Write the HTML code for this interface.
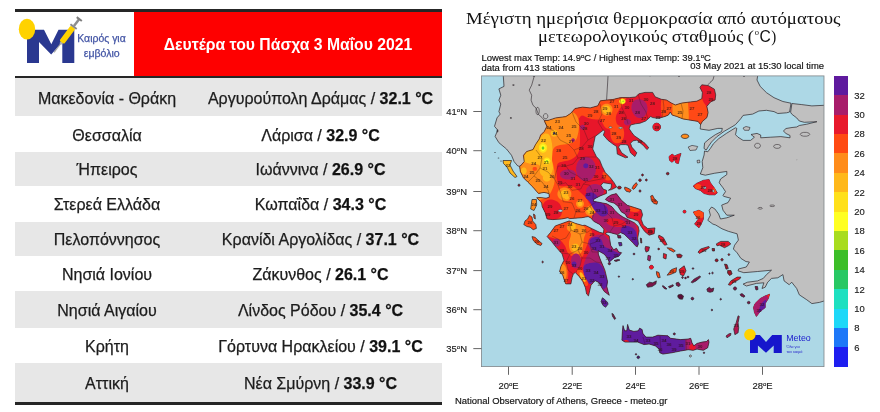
<!DOCTYPE html><html lang="el"><head><meta charset="utf-8"><title>Μέγιστες θερμοκρασίες</title><style>
html,body{margin:0;padding:0;background:#fff;}
body{width:880px;height:412px;position:relative;overflow:hidden;font-family:"Liberation Sans",sans-serif;color:#1a1a1a;}
.abs{position:absolute;}
.row{position:absolute;left:15px;width:427px;}
.g{background:#e7e7e7;}
.c1,.c2{position:absolute;text-align:center;font-size:16px;white-space:nowrap;line-height:20px;color:#1c1c1c;-webkit-text-stroke:0.25px #1c1c1c;}
.c1{left:15px;width:184px;}
.c2{left:199px;width:243px;}
.c2 b{color:#111;}
.hline{position:absolute;left:15px;width:427px;height:2px;background:#262626;}
.ttl{position:absolute;left:455px;width:400px;text-align:center;font-family:"Liberation Serif",serif;font-size:18.8px;line-height:18.3px;color:#111;white-space:nowrap;}
.sm{position:absolute;font-size:9.45px;line-height:10px;color:#111;white-space:nowrap;}
.tick{position:absolute;font-size:9.45px;line-height:10px;color:#222;white-space:nowrap;}
</style></head><body>
<div class="hline" style="top:9.2px;height:2.4px"></div>
<div class="abs" style="left:134.1px;top:11.5px;width:307.9px;height:65px;background:#fe0000"></div>
<div class="abs" style="left:134px;top:11.5px;width:308px;height:65px;line-height:65px;text-align:center;color:#fff;font-weight:bold;font-size:15.75px;white-space:nowrap">Δευτέρα του Πάσχα 3 Μαΐου 2021</div>
<div class="hline" style="top:76.2px;height:2.1px"></div>
<div class="row g" style="top:78.3px;height:38.2px"></div>
<div class="c1" style="top:88.6px">Μακεδονία - Θράκη</div>
<div class="c2" style="top:88.6px">Αργυρούπολη Δράμας / <b>32.1 °C</b></div>
<div class="c1" style="top:125.6px">Θεσσαλία</div>
<div class="c2" style="top:125.6px">Λάρισα / <b>32.9 °C</b></div>
<div class="row g" style="top:152.4px;height:33.6px"></div>
<div class="c1" style="top:160.4px">Ήπειρος</div>
<div class="c2" style="top:160.4px">Ιωάννινα / <b>26.9 °C</b></div>
<div class="c1" style="top:195.3px">Στερεά Ελλάδα</div>
<div class="c2" style="top:195.3px">Κωπαΐδα / <b>34.3 °C</b></div>
<div class="row g" style="top:222.3px;height:33.7px"></div>
<div class="c1" style="top:230.3px">Πελοπόννησος</div>
<div class="c2" style="top:230.3px">Κρανίδι Αργολίδας / <b>37.1 °C</b></div>
<div class="c1" style="top:264.8px">Νησιά Ιονίου</div>
<div class="c2" style="top:264.8px">Ζάκυνθος / <b>26.1 °C</b></div>
<div class="row g" style="top:291.3px;height:36.6px"></div>
<div class="c1" style="top:300.8px">Νησιά Αιγαίου</div>
<div class="c2" style="top:300.8px">Λίνδος Ρόδου / <b>35.4 °C</b></div>
<div class="c1" style="top:336.7px">Κρήτη</div>
<div class="c2" style="top:336.7px">Γόρτυνα Ηρακλείου / <b>39.1 °C</b></div>
<div class="row g" style="top:363.2px;height:38.8px"></div>
<div class="c1" style="top:373.8px">Αττική</div>
<div class="c2" style="top:373.8px">Νέα Σμύρνη / <b>33.9 °C</b></div>
<div class="hline" style="top:402px;height:2.6px"></div>
<svg style="position:absolute;left:0;top:0" width="140" height="78" viewBox="0 0 140 78">
<g filter="url(#lb)">
<defs><filter id="lb" x="-5%" y="-5%" width="110%" height="110%"><feGaussianBlur stdDeviation="0.4"/></filter></defs>
<path d="M27,29.7 L44,29.7 L51.3,44.2 L58.5,29.7 L74.3,29.7 L74.3,63 L62.3,63 L62.3,42 L51.2,54.5 L39,42 L39,63 L27,63 Z" fill="#2b3990"/>
<ellipse cx="27" cy="29.2" rx="8.2" ry="10.4" fill="#ffd200"/>
<g transform="translate(54.1,52.4) rotate(-53)">
<rect x="0" y="-0.55" width="11.5" height="1.1" fill="#a5a5a5"/>
<rect x="10.6" y="-1.3" width="2.6" height="2.6" fill="#b0b0b0"/>
<rect x="12.6" y="-2.9" width="19" height="5.8" rx="1.4" fill="#ffd200"/>
<rect x="31.4" y="-3.9" width="1.9" height="7.8" fill="#8a8a8a"/>
<rect x="33" y="-1.25" width="8.5" height="2.5" fill="#8e8e8e"/>
<rect x="40.8" y="-3.2" width="2" height="6.4" fill="#7e7e7e"/>
</g>
</g>
<text x="101.5" y="42.3" text-anchor="middle" font-family="Liberation Sans, sans-serif" font-size="10.6" fill="#4355a5" stroke="#4355a5" stroke-width="0.25" textLength="48.5" lengthAdjust="spacingAndGlyphs">Καιρός για</text>
<text x="101.7" y="56.8" text-anchor="middle" font-family="Liberation Sans, sans-serif" font-size="10.6" fill="#4355a5" stroke="#4355a5" stroke-width="0.25" textLength="36" lengthAdjust="spacingAndGlyphs">εμβόλιο</text>
</svg>

<svg style="position:absolute;left:0;top:0" width="880" height="412" viewBox="0 0 880 412" font-family="Liberation Sans, sans-serif" fill="#151515"><g font-family="Liberation Serif, serif" font-size="16.3" fill="#111"><text x="466" y="23.8" textLength="374.5" lengthAdjust="spacingAndGlyphs">Μέγιστη ημερήσια θερμοκρασία από αυτόματους</text><text x="538" y="42" textLength="216" lengthAdjust="spacingAndGlyphs">μετεωρολογικούς σταθμούς (</text><text x="754.8" y="34.6" font-size="8.5" textLength="4.3" lengthAdjust="spacingAndGlyphs">ο</text><text x="759.6" y="42" font-family="Liberation Sans, sans-serif" font-size="16" textLength="11.3" lengthAdjust="spacingAndGlyphs">C</text><text x="771.3" y="42" textLength="5" lengthAdjust="spacingAndGlyphs">)</text></g><g font-size="9.45" stroke="#151515" stroke-width="0.18"><text x="481.5" y="60.8">Lowest max Temp: 14.9<tspan font-size="6" dy="-3.2">o</tspan><tspan dy="3.2">C / Highest max Temp: 39.1</tspan><tspan font-size="6" dy="-3.2">o</tspan><tspan dy="3.2">C</tspan></text><text x="481.5" y="70.5">data from 413 stations</text><text x="824" y="69.3" text-anchor="end">03 May 2021 at 15:30 local time</text><text x="455" y="404.4">National Observatory of Athens, Greece - meteo.gr</text></g></svg>
<svg style="position:absolute;left:0;top:0" width="880" height="412" viewBox="0 0 880 412">
<defs>
<clipPath id="fr"><rect x="481.5" y="75.9" width="342.5" height="290.70000000000005"/></clipPath>
<clipPath id="gr"><path d="M519.6,166.3 L520.4,166.0 L524.2,161.6 L523.5,155.3 L526.7,151.5 L533.0,149.6 L535.5,144.6 L539.3,138.9 L540.6,135.1 L544.3,131.4 L546.9,126.3 L545.0,122.5 L544.3,120.4 L548.0,120.4 L555.7,117.9 L565.8,116.6 L570.5,113.5 L575.0,108.5 L582.6,107.1 L590.2,107.9 L597.8,105.8 L600.3,100.8 L606.6,100.1 L612.9,99.5 L620.5,97.6 L629.3,97.6 L635.6,97.0 L638.8,93.8 L645.0,92.4 L652.6,92.4 L655.1,96.8 L661.4,99.3 L666.5,100.0 L671.5,103.1 L675.3,105.0 L681.6,103.1 L690.5,101.9 L696.8,101.2 L701.8,98.7 L702.4,92.4 L699.9,87.4 L701.8,84.8 L708.1,85.5 L714.4,89.2 L715.7,94.9 L715.1,100.0 L710.6,101.9 L706.9,106.3 L708.1,112.6 L706.9,117.6 L702.4,121.4 L700.6,124.6 L698.0,121.4 L690.5,120.2 L682.9,118.9 L676.6,116.4 L672.2,115.1 L670.3,112.0 L668.4,115.1 L665.2,116.4 L658.9,118.3 L652.6,117.6 L650.7,116.5 L645.7,121.0 L640.0,123.2 L635.5,123.8 L630.5,125.0 L629.2,128.8 L631.8,132.6 L634.3,135.8 L638.1,138.3 L645.0,143.3 L648.8,147.8 L646.9,149.6 L643.1,145.2 L636.8,140.2 L633.0,140.8 L630.5,143.3 L631.8,147.1 L636.8,152.8 L634.9,156.6 L630.5,152.8 L628.0,145.2 L625.5,144.6 L620.4,144.6 L618.5,147.1 L621.7,152.8 L628.0,157.2 L625.5,157.8 L617.3,154.1 L616.6,146.5 L612.8,144.0 L607.8,140.2 L603.4,135.1 L604.6,131.4 L603.4,130.1 L600.2,132.6 L595.2,136.4 L593.9,142.7 L592.7,149.0 L596.4,156.6 L599.6,160.0 L602.1,166.3 L605.3,172.6 L610.3,177.7 L614.1,182.7 L616.6,187.1 L611.6,189.6 L608.4,190.3 L611.0,188.4 L611.6,184.0 L603.4,182.7 L600.9,185.2 L603.0,189.0 L606.5,190.3 L606.5,193.4 L600.0,196.0 L593.9,199.2 L593.2,201.2 L599.6,202.4 L606.9,203.8 L612.0,206.8 L614.9,210.4 L618.5,214.0 L622.9,217.0 L628.7,219.9 L634.5,222.8 L638.2,226.4 L639.1,230.8 L637.7,238.1 L638.4,243.9 L637.2,246.9 L635.2,245.6 L633.3,243.2 L628.9,238.8 L624.3,234.2 L620.5,232.6 L617.5,234.6 L614.1,233.7 L609.0,232.3 L606.6,232.4 L605.6,233.9 L609.2,235.9 L610.0,241.0 L610.7,245.4 L613.6,249.8 L616.5,248.3 L618.7,252.0 L621.6,252.7 L618.7,256.3 L614.3,257.8 L610.7,260.7 L609.2,262.2 L607.8,258.5 L604.1,254.1 L599.0,251.2 L598.3,250.5 L598.3,254.1 L600.5,260.0 L602.7,265.1 L604.9,270.2 L606.3,276.0 L607.5,281.4 L606.8,286.4 L608.1,291.5 L609.3,295.3 L604.3,291.5 L601.8,287.7 L599.2,282.7 L595.5,280.8 L594.2,281.4 L591.0,285.2 L589.8,290.2 L588.5,295.9 L586.6,294.0 L585.4,287.7 L582.8,281.4 L579.1,276.4 L575.3,272.6 L573.4,273.8 L572.1,277.6 L570.9,283.9 L565.8,283.9 L565.2,282.7 L562.7,275.1 L559.6,271.6 L560.9,266.5 L564.0,260.2 L562.1,253.9 L556.4,247.6 L551.4,241.3 L547.1,236.6 L550.3,232.8 L555.3,225.9 L562.0,223.5 L569.2,220.9 L575.5,223.4 L582.6,225.5 L585.0,225.2 L592.3,228.8 L599.6,232.3 L603.4,233.2 L603.9,229.2 L599.6,224.4 L593.7,221.3 L590.8,217.9 L588.1,216.6 L581.8,217.7 L574.2,218.3 L569.5,218.6 L567.9,217.7 L561.6,219.0 L552.8,219.6 L547.1,219.0 L545.2,212.7 L542.1,206.4 L541.7,203.0 L540.5,201.6 L536.7,197.8 L540.0,197.5 L546.0,198.2 L549.3,197.2 L549.0,193.5 L544.0,192.4 L538.5,193.4 L536.7,191.5 L532.9,187.1 L527.8,182.1 L523.4,177.7 L520.3,171.4Z M605.4,199.5 L607.0,197.6 L611.0,195.0 L616.3,193.6 L621.4,200.2 L627.3,205.3 L634.5,207.5 L641.1,209.7 L642.6,214.8 L641.1,219.1 L643.3,225.0 L647.7,228.6 L654.9,227.9 L654.2,233.7 L649.1,235.2 L644.7,231.5 L641.1,226.4 L638.2,221.3 L633.1,219.1 L627.3,217.7 L625.1,214.0 L621.4,211.9 L617.8,206.0 L614.1,203.1 L609.0,201.7Z M621.9,340.2 L622.4,331.4 L623.0,325.6 L624.6,330.8 L626.8,330.8 L627.6,324.4 L629.3,330.1 L633.9,331.4 L638.3,330.8 L639.6,328.2 L642.1,329.5 L642.8,333.3 L645.9,337.1 L652.8,337.1 L657.9,335.2 L668.0,335.8 L670.5,338.3 L680.6,339.6 L688.2,339.0 L690.7,338.3 L692.0,342.8 L693.8,345.9 L697.0,343.4 L702.0,342.1 L706.5,341.5 L708.4,339.6 L709.0,342.1 L707.7,347.8 L703.3,350.3 L697.0,349.1 L693.2,350.3 L688.2,349.7 L680.6,351.0 L671.8,352.8 L662.9,354.1 L659.8,352.8 L659.2,349.1 L655.4,345.9 L649.1,344.0 L644.0,344.6 L637.7,342.1 L630.1,342.1 L625.1,342.1Z M660.6,127.0 L660.1,128.9 L658.7,130.4 L656.7,130.9 L654.8,130.4 L653.3,128.9 L652.8,127.0 L653.3,125.0 L654.8,123.6 L656.7,123.1 L658.7,123.6 L660.1,125.0Z M669.0,156.6 L672.1,154.1 L674.7,155.9 L677.2,154.7 L681.0,153.4 L679.7,157.8 L678.4,163.5 L675.9,162.9 L674.7,159.7 L672.1,162.3 L669.6,160.4Z M693.3,186.0 L696.5,183.4 L703.4,180.3 L709.1,179.6 L710.4,182.8 L714.2,187.8 L717.3,192.9 L714.8,194.8 L709.1,194.8 L704.1,193.5 L700.3,190.4 L695.2,188.5Z M693.3,212.1 L699.0,210.2 L703.4,212.7 L703.4,219.0 L700.9,224.7 L699.0,227.8 L694.6,224.1 L698.4,219.0 L695.2,215.2Z M686.0,211.7 L685.7,212.6 L685.0,213.1 L684.0,213.1 L683.3,212.6 L683.0,211.7 L683.3,210.8 L684.0,210.3 L685.0,210.3 L685.7,210.8Z M653.4,267.2 L653.0,268.4 L652.0,269.1 L650.8,269.1 L649.8,268.4 L649.4,267.2 L649.8,266.0 L650.8,265.3 L652.0,265.3 L653.0,266.0Z M769.6,294.2 L768.3,298.6 L765.2,303.6 L765.2,307.6 L760.2,311.4 L756.4,316.4 L754.5,312.6 L753.5,307.4 L755.1,303.6 L760.2,298.6 L765.0,296.0Z"/></clipPath>
<filter id="bl" x="-2%" y="-2%" width="104%" height="104%"><feGaussianBlur stdDeviation="0.55"/></filter>
</defs>
<g clip-path="url(#fr)"><g filter="url(#bl)">
<rect x="470" y="66" width="365" height="310" fill="#add8e6"/>
<path d="M480.0,70.0 L503.3,70.0 L503.3,76.0 L504.0,86.4 L498.9,88.9 L500.8,95.2 L498.9,100.2 L500.8,104.0 L498.9,111.6 L500.2,114.1 L497.0,117.9 L496.4,120.0 L494.5,126.3 L497.7,130.1 L495.1,136.4 L498.9,142.7 L506.5,149.0 L511.5,155.3 L514.1,161.6 L517.8,166.0 L519.6,166.3 L550.0,150.0 L590.0,124.0 L620.0,110.0 L660.0,105.0 L695.0,112.0 L700.6,124.6 L700.2,129.0 L709.0,130.3 L717.8,128.4 L722.3,128.4 L721.6,131.5 L715.3,134.7 L709.0,139.1 L704.6,142.9 L704.0,148.5 L706.3,150.0 L708.4,146.5 L711.5,142.0 L716.6,136.9 L724.2,131.3 L733.0,126.2 L735.5,124.6 L740.6,118.9 L743.1,115.4 L752.6,114.1 L758.9,111.0 L766.5,110.3 L774.0,111.6 L777.8,113.5 L786.6,112.8 L789.6,112.0 L791.0,103.2 L782.9,101.5 L774.0,97.7 L766.5,92.7 L760.2,86.4 L757.0,80.0 L757.6,76.0 L757.6,70.0Z M830.0,105.3 L824.0,105.3 L811.9,105.9 L801.8,104.6 L791.9,103.5 L790.6,112.2 L791.7,114.1 L796.7,117.9 L799.3,121.0 L804.3,122.3 L816.9,121.7 L806.8,124.2 L799.3,125.5 L796.7,127.0 L792.0,127.5 L786.0,128.5 L783.4,131.0 L786.0,133.5 L790.0,135.5 L790.0,137.8 L780.9,136.6 L770.8,137.2 L760.7,137.8 L760.7,135.0 L757.0,133.4 L751.0,134.5 L754.4,137.2 L750.6,140.4 L743.1,140.4 L738.0,137.2 L735.5,134.7 L736.8,128.4 L735.4,127.8 L726.4,133.4 L718.8,138.6 L713.4,143.8 L710.4,148.4 L707.8,151.8 L704.5,151.0 L704.1,155.0 L702.2,161.4 L702.8,167.7 L700.3,174.0 L705.3,175.2 L714.2,173.3 L726.8,171.4 L726.8,174.6 L720.5,179.0 L719.2,182.8 L723.0,187.8 L725.5,191.6 L723.0,195.4 L723.6,196.3 L730.6,198.2 L728.0,202.6 L721.7,205.1 L723.0,210.2 L726.8,215.2 L734.3,215.2 L726.8,217.8 L720.5,219.0 L718.6,214.0 L714.8,208.9 L711.6,207.0 L709.1,210.2 L710.4,215.2 L707.8,220.3 L712.9,224.1 L715.7,225.0 L722.0,228.8 L728.3,231.3 L737.1,233.8 L738.4,240.1 L734.6,245.2 L733.4,249.0 L737.1,252.8 L740.9,258.4 L746.0,261.6 L749.4,262.0 L746.3,267.0 L738.7,268.9 L738.0,270.8 L743.8,272.7 L757.6,271.5 L771.5,270.2 L766.5,274.6 L763.3,278.4 L757.6,280.9 L747.5,282.2 L743.1,284.1 L746.3,286.0 L756.4,283.4 L763.9,282.8 L762.0,288.5 L765.2,287.2 L767.7,282.2 L771.5,278.4 L777.8,277.8 L782.9,274.6 L784.1,280.9 L789.2,284.7 L791.7,282.2 L796.7,288.5 L799.3,294.8 L806.8,299.8 L811.9,303.6 L819.4,302.4 L824.0,301.0 L830.0,301.0Z" fill="#c0c0c0" stroke="#2a2226" stroke-width="0.7" stroke-linejoin="round"/>
<path d="M688.2,147.0 L692.0,145.4 L697.7,146.5 L696.0,150.0 L690.0,150.5Z" fill="#c0c0c0" stroke="#2a2226" stroke-width="0.6"/>
<path d="M697.0,160.5 L699.5,160.0 L700.0,162.5 L697.5,163.0Z" fill="#c0c0c0" stroke="#2a2226" stroke-width="0.6"/>
<path d="M743.0,128.0 L746.0,126.5 L750.0,127.5 L749.0,130.3 L744.5,130.3Z" fill="#c0c0c0" stroke="#2a2226" stroke-width="0.6"/>
<path d="M691.5,356.0 L691.3,356.6 L690.7,357.0 L690.1,357.0 L689.5,356.6 L689.3,356.0 L689.5,355.4 L690.1,355.0 L690.7,355.0 L691.3,355.4Z" fill="#c0c0c0" stroke="#2a2226" stroke-width="0.6"/>
<path d="M539.3,111.0 L539.0,113.2 L538.1,114.6 L537.1,114.6 L536.2,113.2 L535.9,111.0 L536.2,108.8 L537.1,107.4 L538.1,107.4 L539.0,108.8Z" fill="#c0c0c0" stroke="#2a2226" stroke-width="0.55"/>
<path d="M547.9,116.2 L547.5,117.7 L546.3,118.7 L544.9,118.7 L543.7,117.7 L543.3,116.2 L543.7,114.7 L544.9,113.7 L546.3,113.7 L547.5,114.7Z" fill="#c0c0c0" stroke="#2a2226" stroke-width="0.55"/>
<path d="M809.8,134.3 L808.9,135.5 L806.5,136.2 L803.5,136.2 L801.1,135.5 L800.2,134.3 L801.1,133.1 L803.5,132.4 L806.5,132.4 L808.9,133.1Z" fill="#c0c0c0" stroke="#2a2226" stroke-width="0.55"/>
<path d="M760.5,145.7 L759.9,147.2 L758.4,148.1 L756.6,148.1 L755.1,147.2 L754.5,145.7 L755.1,144.2 L756.6,143.3 L758.4,143.3 L759.9,144.2Z" fill="#c0c0c0" stroke="#2a2226" stroke-width="0.55"/>
<path d="M780.8,146.4 L780.1,147.6 L778.3,148.3 L776.1,148.3 L774.3,147.6 L773.6,146.4 L774.3,145.2 L776.1,144.5 L778.3,144.5 L780.1,145.2Z" fill="#c0c0c0" stroke="#2a2226" stroke-width="0.55"/>
<path d="M762.4,208.3 L761.8,208.9 L760.2,209.2 L758.6,208.9 L758.0,208.3 L758.6,207.7 L760.2,207.4 L761.8,207.7Z" fill="#c0c0c0" stroke="#2a2226" stroke-width="0.55"/>
<path d="M774.6,205.8 L773.9,206.4 L772.2,206.6 L770.5,206.4 L769.8,205.8 L770.5,205.2 L772.2,205.0 L773.9,205.2Z" fill="#c0c0c0" stroke="#2a2226" stroke-width="0.55"/>
<path d="M797.1,160.0 L797.0,160.1 L796.9,160.0 L797.0,159.9Z" fill="#c0c0c0" stroke="#2a2226" stroke-width="0.55"/>
<path d="M534.2,76.3 L531.7,85.1 L529.2,90.1 L531.7,95.2 L531.1,100.2 L533.0,105.3 L536.0,108.0 L538.5,114.5 L542.0,117.5 L544.3,120.4" fill="none" stroke="#2a2226" stroke-width="0.6"/>
<path d="M606.6,100.1 L607.0,93.0 L607.5,85.0 L608.0,76.0" fill="none" stroke="#2a2226" stroke-width="0.6"/>
<path d="M708.0,84.8 L710.0,82.5 L713.0,79.8 L714.0,76.0" fill="none" stroke="#2a2226" stroke-width="0.6"/>
<path d="M503.0,160.5 L511.5,160.5 L510.0,165.0 L513.0,171.0 L517.0,176.5 L515.0,177.5 L510.0,173.0 L507.0,167.0 L503.5,163.5Z" fill="#ffb81a" stroke="#2a2226" stroke-width="0.7" stroke-linejoin="round"/>
<path d="M520.1,185.2 L519.9,185.8 L519.3,186.2 L518.7,186.2 L518.1,185.8 L517.9,185.2 L518.1,184.6 L518.7,184.2 L519.3,184.2 L519.9,184.6Z" fill="#a01228" stroke="#2a2226" stroke-width="0.7" stroke-linejoin="round"/>
<path d="M532.0,199.5 L536.4,199.5 L536.7,205.0 L534.0,210.5 L530.7,209.0 L531.5,203.0Z" fill="#ff8c1a" stroke="#2a2226" stroke-width="0.7" stroke-linejoin="round"/>
<path d="M529.5,215.2 L532.0,217.1 L532.6,220.9 L535.8,224.6 L536.4,228.4 L533.2,229.7 L530.1,227.2 L526.9,226.5 L523.8,224.6 L525.0,220.9 L527.6,219.0Z" fill="#ff4a12" stroke="#2a2226" stroke-width="0.7" stroke-linejoin="round"/>
<path d="M533.5,214.0 L535.0,215.0 L535.3,219.0 L534.0,218.0Z" fill="#ff4a12" stroke="#2a2226" stroke-width="0.7" stroke-linejoin="round"/>
<path d="M532.0,236.6 L535.1,237.3 L538.9,241.0 L542.1,243.6 L540.8,245.5 L537.0,244.2 L533.2,240.4Z" fill="#ff4a12" stroke="#2a2226" stroke-width="0.7" stroke-linejoin="round"/>
<path d="M602.4,297.8 L604.3,299.1 L607.4,302.2 L608.1,304.1 L605.6,307.3 L603.0,305.4 L601.1,301.6Z" fill="#5f1a9e" stroke="#2a2226" stroke-width="0.7" stroke-linejoin="round"/>
<path d="M611.9,313.5 L613.1,313.9 L615.7,318.5 L614.6,319.5 L612.5,316.2Z" fill="#7a1448" stroke="#2a2226" stroke-width="0.7" stroke-linejoin="round"/>
<path d="M543.4,262.0 L543.2,262.5 L542.8,262.8 L542.4,262.8 L542.0,262.5 L541.8,262.0 L542.0,261.5 L542.4,261.2 L542.8,261.2 L543.2,261.5Z" fill="#a01228" stroke="#2a2226" stroke-width="0.7" stroke-linejoin="round"/>
<path d="M660.6,127.0 L660.1,128.9 L658.7,130.4 L656.7,130.9 L654.8,130.4 L653.3,128.9 L652.8,127.0 L653.3,125.0 L654.8,123.6 L656.7,123.1 L658.7,123.6 L660.1,125.0Z" fill="#e8192c" stroke="#2a2226" stroke-width="0.7" stroke-linejoin="round"/>
<path d="M688.8,136.3 L688.3,137.4 L686.9,138.2 L685.0,138.5 L683.1,138.2 L681.7,137.4 L681.2,136.3 L681.7,135.2 L683.1,134.4 L685.0,134.1 L686.9,134.4 L688.3,135.2Z" fill="#ff8c1a" stroke="#2a2226" stroke-width="0.7" stroke-linejoin="round"/>
<path d="M669.0,156.6 L672.1,154.1 L674.7,155.9 L677.2,154.7 L681.0,153.4 L679.7,157.8 L678.4,163.5 L675.9,162.9 L674.7,159.7 L672.1,162.3 L669.6,160.4Z" fill="#e8192c" stroke="#2a2226" stroke-width="0.7" stroke-linejoin="round"/>
<path d="M669.0,173.6 L668.8,174.4 L668.1,174.8 L667.3,174.8 L666.6,174.4 L666.4,173.6 L666.6,172.8 L667.3,172.4 L668.1,172.4 L668.8,172.8Z" fill="#a01228" stroke="#2a2226" stroke-width="0.7" stroke-linejoin="round"/>
<path d="M693.3,186.0 L696.5,183.4 L703.4,180.3 L709.1,179.6 L710.4,182.8 L714.2,187.8 L717.3,192.9 L714.8,194.8 L709.1,194.8 L704.1,193.5 L700.3,190.4 L695.2,188.5Z" fill="#e8192c" stroke="#2a2226" stroke-width="0.7" stroke-linejoin="round"/>
<path d="M693.3,212.1 L699.0,210.2 L703.4,212.7 L703.4,219.0 L700.9,224.7 L699.0,227.8 L694.6,224.1 L698.4,219.0 L695.2,215.2Z" fill="#e8192c" stroke="#2a2226" stroke-width="0.7" stroke-linejoin="round"/>
<path d="M686.0,211.7 L685.7,212.6 L685.0,213.1 L684.0,213.1 L683.3,212.6 L683.0,211.7 L683.3,210.8 L684.0,210.3 L685.0,210.3 L685.7,210.8Z" fill="#e8192c" stroke="#2a2226" stroke-width="0.7" stroke-linejoin="round"/>
<path d="M650.7,196.0 L652.6,195.3 L654.5,199.1 L657.6,201.6 L657.0,204.2 L653.8,203.5 L651.3,200.4Z" fill="#ff4a12" stroke="#2a2226" stroke-width="0.7" stroke-linejoin="round"/>
<path d="M621.3,187.6 L620.9,188.5 L620.0,189.0 L618.8,189.0 L617.9,188.5 L617.5,187.6 L617.9,186.7 L618.8,186.2 L620.0,186.2 L620.9,186.7Z" fill="#a01228" stroke="#2a2226" stroke-width="0.7" stroke-linejoin="round"/>
<path d="M624.8,187.0 L628.0,188.2 L631.2,190.2 L630.0,192.2 L626.3,191.3 L624.6,189.0Z" fill="#ff4a12" stroke="#2a2226" stroke-width="0.7" stroke-linejoin="round"/>
<path d="M632.0,188.2 L633.6,185.2 L636.2,182.6 L637.4,184.6 L635.0,188.2 L633.2,189.4Z" fill="#ff4a12" stroke="#2a2226" stroke-width="0.7" stroke-linejoin="round"/>
<path d="M641.3,180.2 L641.1,181.0 L640.4,181.4 L639.6,181.4 L638.9,181.0 L638.7,180.2 L638.9,179.4 L639.6,179.0 L640.4,179.0 L641.1,179.4Z" fill="#a01228" stroke="#2a2226" stroke-width="0.7" stroke-linejoin="round"/>
<path d="M643.5,175.0 L643.3,175.6 L642.8,176.0 L642.2,176.0 L641.7,175.6 L641.5,175.0 L641.7,174.4 L642.2,174.0 L642.8,174.0 L643.3,174.4Z" fill="#a01228" stroke="#2a2226" stroke-width="0.7" stroke-linejoin="round"/>
<path d="M647.3,180.0 L647.1,180.6 L646.6,181.0 L646.0,181.0 L645.5,180.6 L645.3,180.0 L645.5,179.4 L646.0,179.0 L646.6,179.0 L647.1,179.4Z" fill="#a01228" stroke="#2a2226" stroke-width="0.7" stroke-linejoin="round"/>
<path d="M641.1,191.0 L640.9,191.6 L640.3,192.0 L639.7,192.0 L639.1,191.6 L638.9,191.0 L639.1,190.4 L639.7,190.0 L640.3,190.0 L640.9,190.4Z" fill="#a01228" stroke="#2a2226" stroke-width="0.7" stroke-linejoin="round"/>
<path d="M617.5,235.0 L620.5,235.5 L621.0,238.0 L618.0,238.0Z" fill="#7a1448" stroke="#2a2226" stroke-width="0.7" stroke-linejoin="round"/>
<path d="M618.5,242.5 L621.5,242.5 L622.0,245.5 L619.5,246.0Z" fill="#5f1a9e" stroke="#2a2226" stroke-width="0.7" stroke-linejoin="round"/>
<path d="M614.0,260.5 L618.0,259.5 L620.0,260.0 L616.0,261.5Z" fill="#7a1448" stroke="#2a2226" stroke-width="0.7" stroke-linejoin="round"/>
<path d="M610.6,263.6 L610.4,264.3 L609.8,264.7 L609.0,264.7 L608.4,264.3 L608.2,263.6 L608.4,262.9 L609.0,262.5 L609.8,262.5 L610.4,262.9Z" fill="#7a1448" stroke="#2a2226" stroke-width="0.7" stroke-linejoin="round"/>
<path d="M634.9,254.0 L634.7,254.5 L634.3,254.9 L633.7,254.9 L633.3,254.5 L633.1,254.0 L633.3,253.5 L633.7,253.1 L634.3,253.1 L634.7,253.5Z" fill="#7a1448" stroke="#2a2226" stroke-width="0.7" stroke-linejoin="round"/>
<path d="M619.6,276.6 L619.5,277.0 L619.1,277.3 L618.7,277.3 L618.3,277.0 L618.2,276.6 L618.3,276.2 L618.7,275.9 L619.1,275.9 L619.5,276.2Z" fill="#7a1448" stroke="#2a2226" stroke-width="0.7" stroke-linejoin="round"/>
<path d="M633.5,279.2 L633.4,279.6 L633.0,279.9 L632.6,279.9 L632.2,279.6 L632.1,279.2 L632.2,278.8 L632.6,278.5 L633.0,278.5 L633.4,278.8Z" fill="#7a1448" stroke="#2a2226" stroke-width="0.7" stroke-linejoin="round"/>
<path d="M640.3,238.0 L641.5,238.5 L641.8,243.0 L640.8,243.0Z" fill="#a01228" stroke="#2a2226" stroke-width="0.7" stroke-linejoin="round"/>
<path d="M658.9,235.1 L663.3,237.6 L667.1,244.6 L664.6,245.2 L660.2,240.1 L658.3,237.0Z" fill="#e8192c" stroke="#2a2226" stroke-width="0.7" stroke-linejoin="round"/>
<path d="M667.1,247.7 L671.5,248.3 L675.3,250.9 L673.4,252.1 L669.0,249.6Z" fill="#ff4a12" stroke="#2a2226" stroke-width="0.7" stroke-linejoin="round"/>
<path d="M676.6,254.5 L680.0,254.0 L682.3,255.5 L681.0,257.8 L677.5,257.5Z" fill="#a01228" stroke="#2a2226" stroke-width="0.7" stroke-linejoin="round"/>
<path d="M645.5,246.4 L649.5,247.0 L648.5,251.0 L646.0,252.1 L645.0,249.0Z" fill="#c2143c" stroke="#2a2226" stroke-width="0.7" stroke-linejoin="round"/>
<path d="M648.0,255.3 L650.7,256.0 L650.0,261.0 L647.6,260.0Z" fill="#a81d6b" stroke="#2a2226" stroke-width="0.7" stroke-linejoin="round"/>
<path d="M663.5,253.4 L666.5,254.5 L666.0,259.0 L663.3,258.0Z" fill="#e8192c" stroke="#2a2226" stroke-width="0.7" stroke-linejoin="round"/>
<path d="M659.6,249.0 L659.4,249.5 L659.0,249.9 L658.4,249.9 L658.0,249.5 L657.8,249.0 L658.0,248.5 L658.4,248.1 L659.0,248.1 L659.4,248.5Z" fill="#a01228" stroke="#2a2226" stroke-width="0.7" stroke-linejoin="round"/>
<path d="M653.4,267.2 L653.0,268.4 L652.0,269.1 L650.8,269.1 L649.8,268.4 L649.4,267.2 L649.8,266.0 L650.8,265.3 L652.0,265.3 L653.0,266.0Z" fill="#e8192c" stroke="#2a2226" stroke-width="0.7" stroke-linejoin="round"/>
<path d="M656.4,271.5 L659.0,272.5 L660.2,277.5 L658.0,277.8 L656.6,274.5Z" fill="#ff4a12" stroke="#2a2226" stroke-width="0.7" stroke-linejoin="round"/>
<path d="M667.1,275.2 L671.5,269.6 L676.6,267.7 L676.0,272.1 L670.3,274.6Z" fill="#ff4a12" stroke="#2a2226" stroke-width="0.7" stroke-linejoin="round"/>
<path d="M679.1,269.6 L684.2,265.8 L686.0,270.8 L683.5,275.9 L680.4,274.6Z" fill="#e8192c" stroke="#2a2226" stroke-width="0.7" stroke-linejoin="round"/>
<path d="M646.3,284.7 L649.5,282.2 L652.6,282.8 L656.4,280.9 L655.8,284.1 L652.0,286.6 L647.6,287.2Z" fill="#7a1448" stroke="#2a2226" stroke-width="0.7" stroke-linejoin="round"/>
<path d="M662.7,285.5 L665.0,287.0 L667.0,289.0 L665.0,289.0 L662.7,287.0Z" fill="#7a1448" stroke="#2a2226" stroke-width="0.7" stroke-linejoin="round"/>
<path d="M668.5,286.5 L673.0,284.7 L673.4,286.0 L669.5,288.0Z" fill="#7a1448" stroke="#2a2226" stroke-width="0.7" stroke-linejoin="round"/>
<path d="M676.0,283.0 L678.5,282.2 L680.4,285.0 L679.0,286.6 L676.5,285.5Z" fill="#7a1448" stroke="#2a2226" stroke-width="0.7" stroke-linejoin="round"/>
<path d="M691.1,282.2 L694.2,279.0 L699.9,275.9 L700.6,277.1 L696.1,280.9 L692.4,282.8Z" fill="#7a1448" stroke="#2a2226" stroke-width="0.7" stroke-linejoin="round"/>
<path d="M683.4,277.5 L683.2,278.0 L682.8,278.4 L682.2,278.4 L681.8,278.0 L681.6,277.5 L681.8,277.0 L682.2,276.6 L682.8,276.6 L683.2,277.0Z" fill="#7a1448" stroke="#2a2226" stroke-width="0.7" stroke-linejoin="round"/>
<path d="M686.4,278.0 L686.2,278.5 L685.8,278.9 L685.2,278.9 L684.8,278.5 L684.6,278.0 L684.8,277.5 L685.2,277.1 L685.8,277.1 L686.2,277.5Z" fill="#7a1448" stroke="#2a2226" stroke-width="0.7" stroke-linejoin="round"/>
<path d="M688.9,277.0 L688.7,277.5 L688.3,277.9 L687.7,277.9 L687.3,277.5 L687.1,277.0 L687.3,276.5 L687.7,276.1 L688.3,276.1 L688.7,276.5Z" fill="#7a1448" stroke="#2a2226" stroke-width="0.7" stroke-linejoin="round"/>
<path d="M678.0,295.0 L681.0,294.2 L683.5,296.0 L682.5,299.2 L679.5,299.0 L677.8,297.0Z" fill="#5a1038" stroke="#2a2226" stroke-width="0.7" stroke-linejoin="round"/>
<path d="M693.8,298.6 L693.5,299.4 L692.8,299.9 L692.0,299.9 L691.3,299.4 L691.0,298.6 L691.3,297.8 L692.0,297.3 L692.8,297.3 L693.5,297.8Z" fill="#7a1448" stroke="#2a2226" stroke-width="0.7" stroke-linejoin="round"/>
<path d="M706.9,289.0 L709.5,287.2 L711.0,289.0 L713.8,288.0 L713.0,291.5 L710.0,292.3 L707.5,291.5Z" fill="#7a1448" stroke="#2a2226" stroke-width="0.7" stroke-linejoin="round"/>
<path d="M693.8,268.5 L693.6,269.0 L693.2,269.3 L692.8,269.3 L692.4,269.0 L692.2,268.5 L692.4,268.0 L692.8,267.7 L693.2,267.7 L693.6,268.0Z" fill="#7a1448" stroke="#2a2226" stroke-width="0.7" stroke-linejoin="round"/>
<path d="M713.3,273.0 L713.1,273.5 L712.7,273.8 L712.3,273.8 L711.9,273.5 L711.7,273.0 L711.9,272.5 L712.3,272.2 L712.7,272.2 L713.1,272.5Z" fill="#7a1448" stroke="#2a2226" stroke-width="0.7" stroke-linejoin="round"/>
<path d="M710.1,273.5 L710.0,273.9 L709.7,274.1 L709.3,274.1 L709.0,273.9 L708.9,273.5 L709.0,273.1 L709.3,272.9 L709.7,272.9 L710.0,273.1Z" fill="#7a1448" stroke="#2a2226" stroke-width="0.7" stroke-linejoin="round"/>
<path d="M721.5,299.2 L721.3,299.7 L720.9,300.0 L720.5,300.0 L720.1,299.7 L719.9,299.2 L720.1,298.7 L720.5,298.4 L720.9,298.4 L721.3,298.7Z" fill="#7a1448" stroke="#2a2226" stroke-width="0.7" stroke-linejoin="round"/>
<path d="M712.7,310.0 L712.5,310.5 L712.1,310.8 L711.7,310.8 L711.3,310.5 L711.1,310.0 L711.3,309.5 L711.7,309.2 L712.1,309.2 L712.5,309.5Z" fill="#7a1448" stroke="#2a2226" stroke-width="0.7" stroke-linejoin="round"/>
<path d="M698.0,252.1 L700.6,249.0 L708.8,246.4 L709.4,247.7 L703.1,251.5 L699.3,253.4Z" fill="#e8192c" stroke="#2a2226" stroke-width="0.7" stroke-linejoin="round"/>
<path d="M716.3,243.9 L720.7,241.4 L728.3,241.4 L730.8,243.9 L728.3,245.8 L724.5,247.7 L719.5,245.2 L717.0,245.8Z" fill="#e8192c" stroke="#2a2226" stroke-width="0.7" stroke-linejoin="round"/>
<path d="M712.0,248.5 L714.5,248.5 L714.5,251.0 L712.5,251.0Z" fill="#a01228" stroke="#2a2226" stroke-width="0.7" stroke-linejoin="round"/>
<path d="M718.1,260.3 L717.8,261.2 L717.1,261.7 L716.1,261.7 L715.4,261.2 L715.1,260.3 L715.4,259.4 L716.1,258.9 L717.1,258.9 L717.8,259.4Z" fill="#a01228" stroke="#2a2226" stroke-width="0.7" stroke-linejoin="round"/>
<path d="M723.2,259.7 L723.0,260.4 L722.4,260.8 L721.6,260.8 L721.0,260.4 L720.8,259.7 L721.0,259.0 L721.6,258.6 L722.4,258.6 L723.0,259.0Z" fill="#a01228" stroke="#2a2226" stroke-width="0.7" stroke-linejoin="round"/>
<path d="M729.8,254.6 L729.6,255.1 L729.2,255.5 L728.6,255.5 L728.2,255.1 L728.0,254.6 L728.2,254.1 L728.6,253.7 L729.2,253.7 L729.6,254.1Z" fill="#a01228" stroke="#2a2226" stroke-width="0.7" stroke-linejoin="round"/>
<path d="M724.5,264.1 L727.0,264.5 L728.3,268.5 L726.0,269.2Z" fill="#a01228" stroke="#2a2226" stroke-width="0.7" stroke-linejoin="round"/>
<path d="M727.7,270.4 L731.0,270.6 L732.1,274.0 L729.5,275.5 L727.5,273.0Z" fill="#a01228" stroke="#2a2226" stroke-width="0.7" stroke-linejoin="round"/>
<path d="M728.3,284.7 L730.8,280.9 L737.1,277.1 L740.9,277.1 L739.7,279.0 L734.0,282.2 L730.2,285.3Z" fill="#e8192c" stroke="#2a2226" stroke-width="0.7" stroke-linejoin="round"/>
<path d="M736.6,288.5 L736.3,289.4 L735.5,290.0 L734.5,290.0 L733.7,289.4 L733.4,288.5 L733.7,287.6 L734.5,287.0 L735.5,287.0 L736.3,287.6Z" fill="#7a1448" stroke="#2a2226" stroke-width="0.7" stroke-linejoin="round"/>
<path d="M740.0,294.5 L742.0,293.5 L745.0,296.0 L744.0,297.3 L741.0,296.0Z" fill="#7a1448" stroke="#2a2226" stroke-width="0.7" stroke-linejoin="round"/>
<path d="M755.0,286.5 L757.5,286.5 L758.0,289.5 L756.0,290.0Z" fill="#7a1448" stroke="#2a2226" stroke-width="0.7" stroke-linejoin="round"/>
<path d="M750.0,302.6 L749.8,303.4 L749.1,303.8 L748.3,303.8 L747.6,303.4 L747.4,302.6 L747.6,301.8 L748.3,301.4 L749.1,301.4 L749.8,301.8Z" fill="#7a1448" stroke="#2a2226" stroke-width="0.7" stroke-linejoin="round"/>
<path d="M769.6,294.2 L768.3,298.6 L765.2,303.6 L765.2,307.6 L760.2,311.4 L756.4,316.4 L754.5,312.6 L753.5,307.4 L755.1,303.6 L760.2,298.6 L765.0,296.0Z" fill="#a81d6b" stroke="#2a2226" stroke-width="0.7" stroke-linejoin="round"/>
<path d="M738.1,315.8 L739.3,316.4 L738.1,322.7 L738.7,327.8 L738.1,332.8 L734.9,334.7 L733.7,329.0 L736.2,322.7Z" fill="#b01850" stroke="#2a2226" stroke-width="0.7" stroke-linejoin="round"/>
<path d="M726.0,336.0 L729.0,333.8 L731.0,333.4 L730.5,335.5 L727.0,337.8Z" fill="#b01850" stroke="#2a2226" stroke-width="0.7" stroke-linejoin="round"/>
<path d="M639.7,357.3 L639.4,358.1 L638.7,358.6 L637.9,358.6 L637.2,358.1 L636.9,357.3 L637.2,356.5 L637.9,356.0 L638.7,356.0 L639.4,356.5Z" fill="#4a1470" stroke="#2a2226" stroke-width="0.7" stroke-linejoin="round"/>
<path d="M636.7,354.3 L636.6,354.7 L636.2,355.0 L635.8,355.0 L635.4,354.7 L635.3,354.3 L635.4,353.9 L635.8,353.6 L636.2,353.6 L636.6,353.9Z" fill="#7a1448" stroke="#2a2226" stroke-width="0.7" stroke-linejoin="round"/>
<path d="M675.4,333.9 L675.2,334.5 L674.6,334.9 L674.0,334.9 L673.4,334.5 L673.2,333.9 L673.4,333.3 L674.0,332.9 L674.6,332.9 L675.2,333.3Z" fill="#7a1448" stroke="#2a2226" stroke-width="0.7" stroke-linejoin="round"/>
<path d="M704.7,352.8 L704.6,353.2 L704.2,353.5 L703.8,353.5 L703.4,353.2 L703.3,352.8 L703.4,352.4 L703.8,352.1 L704.2,352.1 L704.6,352.4Z" fill="#7a1448" stroke="#2a2226" stroke-width="0.7" stroke-linejoin="round"/>
<g clip-path="url(#gr)">
<rect x="480" y="70" width="350" height="300" fill="#e8192c"/>
<path d="M490.0,100.0 C504.5,79.7 562.2,96.7 577.0,100.0 C591.8,103.3 578.5,114.2 579.0,120.0 C579.5,125.8 579.9,130.3 580.0,135.0 C580.1,139.7 580.0,144.7 579.5,148.0 C579.0,151.3 578.4,153.1 577.0,155.0 C575.6,156.9 573.3,158.4 571.0,159.5 C568.7,160.6 565.2,160.8 563.0,161.5 C560.8,162.2 558.5,162.2 557.5,164.0 C556.5,165.8 556.8,169.3 556.8,172.0 C556.8,174.7 556.7,177.7 557.2,180.0 C557.7,182.3 557.5,185.0 560.0,186.0 C562.5,187.0 568.7,185.0 572.0,186.0 C575.3,187.0 577.7,190.0 580.0,192.0 C582.3,194.0 584.3,196.0 586.0,198.0 C587.7,200.0 588.2,202.3 590.0,204.0 C591.8,205.7 595.8,206.3 597.0,208.0 C598.2,209.7 597.8,212.3 597.0,214.0 C596.2,215.7 593.8,217.2 592.0,218.0 C590.2,218.8 588.3,218.8 586.0,219.0 C583.7,219.2 580.7,218.9 578.0,219.0 C575.3,219.1 572.7,219.3 570.0,219.5 C567.3,219.7 564.3,219.8 562.0,220.0 C559.7,220.2 558.3,220.7 556.0,221.0 C553.7,221.3 552.3,221.8 548.0,222.0 C543.7,222.2 539.7,222.0 530.0,222.0 C520.3,222.0 496.7,242.3 490.0,222.0 C483.3,201.7 475.5,120.3 490.0,100.0Z" fill="#ff4a12"/>
<path d="M545.0,201.5 C546.7,199.8 549.7,199.2 552.0,199.5 C554.3,199.8 557.3,201.2 559.0,203.0 C560.7,204.8 561.8,207.7 562.0,210.0 C562.2,212.3 561.7,215.2 560.0,217.0 C558.3,218.8 554.3,219.9 552.0,220.5 C549.7,221.1 547.7,222.2 546.0,220.5 C544.3,218.8 542.2,213.2 542.0,210.0 C541.8,206.8 543.3,203.2 545.0,201.5Z" fill="#e8192c"/>
<path d="M572.0,98.0 C580.7,93.3 615.5,91.0 624.0,92.0 C632.5,93.0 624.0,101.0 623.0,104.0 C622.0,107.0 619.5,108.2 618.0,110.0 C616.5,111.8 616.0,113.5 614.0,115.0 C612.0,116.5 609.0,118.2 606.0,119.0 C603.0,119.8 599.0,119.7 596.0,119.5 C593.0,119.3 590.3,118.7 588.0,118.0 C585.7,117.3 583.7,115.3 582.0,115.5 C580.3,115.7 579.7,118.2 578.0,119.0 C576.3,119.8 573.0,123.5 572.0,120.0 C571.0,116.5 563.3,102.7 572.0,98.0Z" fill="#ff4a12"/>
<path d="M598.0,103.0 C599.5,101.0 603.3,98.8 606.0,98.0 C608.7,97.2 611.3,97.8 614.0,98.0 C616.7,98.2 621.0,97.3 622.0,99.0 C623.0,100.7 621.0,105.2 620.0,108.0 C619.0,110.8 616.5,113.3 616.0,116.0 C615.5,118.7 615.8,122.0 617.0,124.0 C618.2,126.0 621.8,126.0 623.0,128.0 C624.2,130.0 624.3,133.7 624.0,136.0 C623.7,138.3 622.5,140.8 621.0,142.0 C619.5,143.2 616.7,143.7 615.0,143.0 C613.3,142.3 611.8,140.2 611.0,138.0 C610.2,135.8 610.8,131.7 610.0,130.0 C609.2,128.3 607.2,129.0 606.0,128.0 C604.8,127.0 604.0,126.0 603.0,124.0 C602.0,122.0 601.0,118.3 600.0,116.0 C599.0,113.7 597.3,112.2 597.0,110.0 C596.7,107.8 596.5,105.0 598.0,103.0Z" fill="#ff4a12"/>
<path d="M662.0,98.0 C663.2,95.8 665.7,96.5 668.0,97.0 C670.3,97.5 672.3,100.8 676.0,101.0 C679.7,101.2 686.0,98.7 690.0,98.0 C694.0,97.3 697.7,96.2 700.0,97.0 C702.3,97.8 702.8,101.2 704.0,103.0 C705.2,104.8 706.2,105.5 707.0,108.0 C707.8,110.5 709.7,115.0 709.0,118.0 C708.3,121.0 706.2,125.0 703.0,126.0 C699.8,127.0 694.5,125.0 690.0,124.0 C685.5,123.0 679.7,120.8 676.0,120.0 C672.3,119.2 670.2,119.2 668.0,119.0 C665.8,118.8 664.2,120.5 663.0,119.0 C661.8,117.5 661.2,113.5 661.0,110.0 C660.8,106.5 660.8,100.2 662.0,98.0Z" fill="#ff4a12"/>
<path d="M603.0,172.0 C603.8,171.5 606.7,172.8 608.0,174.0 C609.3,175.2 611.2,177.9 611.0,179.0 C610.8,180.1 608.2,180.8 607.0,180.5 C605.8,180.2 604.2,178.4 603.5,177.0 C602.8,175.6 602.2,172.5 603.0,172.0Z" fill="#ff4a12"/>
<path d="M629.0,206.0 C629.8,205.1 632.3,204.8 634.0,205.0 C635.7,205.2 638.2,206.0 639.0,207.0 C639.8,208.0 639.8,210.2 639.0,211.0 C638.2,211.8 635.6,212.1 634.0,212.0 C632.4,211.9 630.3,211.5 629.5,210.5 C628.7,209.5 628.2,206.9 629.0,206.0Z" fill="#ff4a12"/>
<path d="M553.0,226.0 C555.3,224.3 559.2,222.1 562.0,221.0 C564.8,219.9 567.0,219.2 570.0,219.5 C573.0,219.8 576.7,221.6 580.0,223.0 C583.3,224.4 588.0,225.8 590.0,228.0 C592.0,230.2 592.3,233.5 592.0,236.0 C591.7,238.5 589.2,240.7 588.0,243.0 C586.8,245.3 586.0,247.7 585.0,250.0 C584.0,252.3 583.8,255.8 582.0,257.0 C580.2,258.2 576.3,257.7 574.0,257.0 C571.7,256.3 569.5,254.8 568.0,253.0 C566.5,251.2 566.3,248.2 565.0,246.0 C563.7,243.8 562.0,241.3 560.0,240.0 C558.0,238.7 555.0,238.7 553.0,238.0 C551.0,237.3 548.8,237.2 548.0,236.0 C547.2,234.8 547.2,232.7 548.0,231.0 C548.8,229.3 550.7,227.7 553.0,226.0Z" fill="#ff4a12"/>
<path d="M558.0,262.0 C559.3,261.0 563.3,260.7 565.0,262.0 C566.7,263.3 567.5,267.3 568.0,270.0 C568.5,272.7 568.3,275.5 568.0,278.0 C567.7,280.5 567.5,283.8 566.0,285.0 C564.5,286.2 560.7,286.7 559.0,285.0 C557.3,283.3 556.3,277.8 556.0,275.0 C555.7,272.2 556.7,270.2 557.0,268.0 C557.3,265.8 556.7,263.0 558.0,262.0Z" fill="#ff4a12"/>
<path d="M577.0,270.0 C577.7,269.0 580.5,269.0 582.0,270.0 C583.5,271.0 585.0,273.7 586.0,276.0 C587.0,278.3 588.0,282.3 588.0,284.0 C588.0,285.7 587.0,286.3 586.0,286.0 C585.0,285.7 583.3,283.7 582.0,282.0 C580.7,280.3 578.8,278.0 578.0,276.0 C577.2,274.0 576.3,271.0 577.0,270.0Z" fill="#ff4a12"/>
<path d="M490.0,117.0 C499.7,103.2 537.0,117.3 548.0,117.0 C559.0,116.7 553.0,115.5 556.0,115.0 C559.0,114.5 563.3,114.5 566.0,114.0 C568.7,113.5 570.2,111.7 572.0,112.0 C573.8,112.3 575.8,114.0 577.0,116.0 C578.2,118.0 578.8,121.0 579.0,124.0 C579.2,127.0 578.7,131.2 578.0,134.0 C577.3,136.8 576.7,139.3 575.0,141.0 C573.3,142.7 570.5,143.3 568.0,144.0 C565.5,144.7 562.3,144.3 560.0,145.0 C557.7,145.7 555.5,146.2 554.0,148.0 C552.5,149.8 551.2,153.3 551.0,156.0 C550.8,158.7 552.4,161.3 553.0,164.0 C553.6,166.7 554.2,169.0 554.5,172.0 C554.8,175.0 554.9,179.0 554.5,182.0 C554.1,185.0 553.1,187.7 552.0,190.0 C550.9,192.3 550.0,194.3 548.0,196.0 C546.0,197.7 543.3,199.3 540.0,200.0 C536.7,200.7 536.3,200.0 528.0,200.0 C519.7,200.0 496.3,213.8 490.0,200.0 C483.7,186.2 480.3,130.8 490.0,117.0Z" fill="#ff8c1a"/>
<path d="M571.4,194.0 C571.4,194.9 571.1,196.0 570.7,196.8 C570.3,197.7 569.6,198.5 568.8,199.1 C568.0,199.7 567.0,200.1 566.0,200.3 C565.0,200.5 563.8,200.5 562.8,200.3 C561.8,200.1 560.8,199.7 560.0,199.1 C559.2,198.5 558.5,197.7 558.1,196.8 C557.7,196.0 557.4,194.9 557.4,194.0 C557.4,193.1 557.7,192.0 558.1,191.2 C558.5,190.3 559.2,189.5 560.0,188.9 C560.8,188.3 561.8,187.9 562.8,187.7 C563.8,187.5 565.0,187.5 566.0,187.7 C567.0,187.9 568.0,188.3 568.8,188.9 C569.6,189.5 570.3,190.3 570.7,191.2 C571.1,192.0 571.4,193.1 571.4,194.0Z" fill="#ff8c1a"/>
<path d="M612.6,109.6 C612.6,110.5 612.4,111.4 612.0,112.2 C611.6,113.0 611.0,113.8 610.3,114.3 C609.6,114.8 608.7,115.2 607.9,115.4 C607.1,115.6 606.1,115.6 605.3,115.4 C604.5,115.2 603.6,114.8 602.9,114.3 C602.2,113.8 601.6,113.0 601.2,112.2 C600.8,111.4 600.6,110.5 600.6,109.6 C600.6,108.7 600.8,107.8 601.2,107.0 C601.6,106.2 602.2,105.4 602.9,104.9 C603.6,104.4 604.5,104.0 605.3,103.8 C606.1,103.6 607.1,103.6 607.9,103.8 C608.7,104.0 609.6,104.4 610.3,104.9 C611.0,105.4 611.6,106.2 612.0,107.0 C612.4,107.8 612.6,108.7 612.6,109.6Z" fill="#ff8c1a"/>
<path d="M673.5,101.0 C674.9,99.3 678.8,100.2 681.0,100.0 C683.2,99.8 685.8,98.3 687.0,100.0 C688.2,101.7 688.3,106.3 688.5,110.0 C688.7,113.7 689.4,120.0 688.0,122.0 C686.6,124.0 682.5,122.5 680.0,122.0 C677.5,121.5 674.2,121.0 673.0,119.0 C671.8,117.0 672.4,113.0 672.5,110.0 C672.6,107.0 672.1,102.7 673.5,101.0Z" fill="#ff8c1a"/>
<path d="M568.0,224.0 C569.2,222.6 571.7,220.4 574.0,220.5 C576.3,220.6 580.0,222.8 582.0,224.5 C584.0,226.2 585.7,228.8 586.0,231.0 C586.3,233.2 584.5,235.5 584.0,238.0 C583.5,240.5 583.5,243.5 583.0,246.0 C582.5,248.5 582.3,251.7 581.0,253.0 C579.7,254.3 576.8,254.5 575.0,254.0 C573.2,253.5 571.0,252.0 570.0,250.0 C569.0,248.0 568.8,244.7 569.0,242.0 C569.2,239.3 571.3,236.2 571.0,234.0 C570.7,231.8 567.5,230.7 567.0,229.0 C566.5,227.3 566.8,225.4 568.0,224.0Z" fill="#ff8c1a"/>
<path d="M584.0,203.8 C584.0,204.4 583.9,205.0 583.6,205.5 C583.4,206.0 583.0,206.5 582.5,206.9 C582.0,207.3 581.5,207.6 580.9,207.7 C580.3,207.8 579.7,207.8 579.1,207.7 C578.5,207.6 578.0,207.3 577.5,206.9 C577.0,206.5 576.6,206.0 576.4,205.5 C576.1,205.0 576.0,204.4 576.0,203.8 C576.0,203.2 576.1,202.6 576.4,202.1 C576.6,201.6 577.0,201.1 577.5,200.7 C578.0,200.3 578.5,200.0 579.1,199.9 C579.7,199.8 580.3,199.8 580.9,199.9 C581.5,200.0 582.0,200.3 582.5,200.7 C583.0,201.1 583.4,201.6 583.6,202.1 C583.9,202.6 584.0,203.2 584.0,203.8Z" fill="#ff8c1a"/>
<path d="M595.1,210.8 C595.1,211.5 594.9,212.3 594.6,213.0 C594.3,213.7 593.8,214.2 593.2,214.7 C592.6,215.1 591.9,215.5 591.2,215.7 C590.5,215.9 589.7,215.9 589.0,215.7 C588.3,215.5 587.6,215.1 587.0,214.7 C586.4,214.2 585.9,213.7 585.6,213.0 C585.3,212.3 585.1,211.5 585.1,210.8 C585.1,210.1 585.3,209.2 585.6,208.6 C585.9,207.9 586.4,207.3 587.0,206.9 C587.6,206.5 588.3,206.1 589.0,205.9 C589.7,205.7 590.5,205.7 591.2,205.9 C591.9,206.1 592.6,206.5 593.2,206.9 C593.8,207.3 594.3,207.9 594.6,208.6 C594.9,209.2 595.1,210.1 595.1,210.8Z" fill="#ff8c1a"/>
<path d="M570.7,197.5 C570.7,198.0 570.5,198.6 570.3,199.0 C570.0,199.4 569.7,199.9 569.2,200.2 C568.8,200.5 568.2,200.8 567.6,200.9 C567.0,201.0 566.4,201.0 565.8,200.9 C565.2,200.8 564.7,200.5 564.2,200.2 C563.8,199.9 563.4,199.4 563.1,199.0 C562.9,198.6 562.7,198.0 562.7,197.5 C562.7,197.0 562.9,196.4 563.1,196.0 C563.4,195.6 563.8,195.1 564.2,194.8 C564.7,194.5 565.2,194.2 565.8,194.1 C566.4,194.0 567.0,194.0 567.6,194.1 C568.2,194.2 568.8,194.5 569.2,194.8 C569.7,195.1 570.0,195.6 570.3,196.0 C570.5,196.4 570.7,197.0 570.7,197.5Z" fill="#ff8c1a"/>
<path d="M560.0,265.0 C560.8,263.8 562.9,263.7 564.0,264.5 C565.1,265.3 566.2,267.8 566.5,270.0 C566.8,272.2 566.8,276.5 566.0,278.0 C565.2,279.5 563.1,280.0 562.0,279.0 C560.9,278.0 559.8,274.3 559.5,272.0 C559.2,269.7 559.2,266.2 560.0,265.0Z" fill="#ff8c1a"/>
<path d="M534.9,168.8 C534.9,168.8 534.9,168.8 534.9,168.8 C534.9,168.8 534.9,168.9 534.9,168.9 C534.9,168.9 534.8,168.9 534.8,168.9 C534.8,168.9 534.8,168.9 534.8,168.9 C534.8,168.9 534.7,168.9 534.7,168.9 C534.7,168.9 534.7,168.8 534.7,168.8 C534.7,168.8 534.7,168.8 534.7,168.8 C534.7,168.8 534.7,168.8 534.7,168.8 C534.7,168.8 534.7,168.7 534.7,168.7 C534.7,168.7 534.8,168.7 534.8,168.7 C534.8,168.7 534.8,168.7 534.8,168.7 C534.8,168.7 534.9,168.7 534.9,168.7 C534.9,168.7 534.9,168.8 534.9,168.8 C534.9,168.8 534.9,168.8 534.9,168.8Z" fill="#ff8c1a"/>
<path d="M523.5,160.5 C523.1,158.6 524.9,153.8 526.5,152.0 C528.1,150.2 531.5,150.8 533.0,149.5 C534.5,148.2 534.4,146.3 535.5,144.5 C536.6,142.7 538.1,140.2 539.5,138.5 C540.9,136.8 542.4,134.7 544.0,134.0 C545.6,133.3 547.8,133.3 549.0,134.5 C550.2,135.7 550.9,138.4 551.5,141.0 C552.1,143.6 552.4,146.8 552.5,150.0 C552.6,153.2 551.9,157.0 552.0,160.0 C552.1,163.0 553.2,165.5 553.0,168.0 C552.8,170.5 551.8,173.4 550.5,175.0 C549.2,176.6 546.8,177.8 545.0,177.5 C543.2,177.2 540.8,174.9 540.0,173.0 C539.2,171.1 540.8,167.5 540.0,166.0 C539.2,164.5 536.8,164.4 535.0,164.0 C533.2,163.6 530.9,164.1 529.0,163.5 C527.1,162.9 523.9,162.4 523.5,160.5Z" fill="#ffb81a"/>
<path d="M557.8,133.2 C557.8,133.7 557.6,134.2 557.4,134.7 C557.2,135.1 556.8,135.6 556.4,135.9 C556.0,136.2 555.5,136.4 555.0,136.5 C554.5,136.6 553.9,136.6 553.4,136.5 C552.9,136.4 552.4,136.2 552.0,135.9 C551.6,135.6 551.2,135.1 551.0,134.7 C550.8,134.2 550.6,133.7 550.6,133.2 C550.6,132.7 550.8,132.1 551.0,131.7 C551.2,131.2 551.6,130.8 552.0,130.5 C552.4,130.2 552.9,130.0 553.4,129.9 C553.9,129.8 554.5,129.8 555.0,129.9 C555.5,130.0 556.0,130.2 556.4,130.5 C556.8,130.8 557.2,131.2 557.4,131.7 C557.6,132.1 557.8,132.7 557.8,133.2Z" fill="#ffb81a"/>
<path d="M555.2,133.2 C555.2,133.3 555.2,133.5 555.1,133.6 C555.0,133.7 554.9,133.9 554.8,134.0 C554.7,134.1 554.5,134.2 554.4,134.2 C554.3,134.2 554.1,134.2 554.0,134.2 C553.9,134.2 553.7,134.1 553.6,134.0 C553.5,133.9 553.4,133.7 553.3,133.6 C553.2,133.5 553.2,133.3 553.2,133.2 C553.2,133.1 553.2,132.9 553.3,132.8 C553.4,132.7 553.5,132.5 553.6,132.4 C553.7,132.3 553.9,132.2 554.0,132.2 C554.1,132.2 554.3,132.2 554.4,132.2 C554.5,132.2 554.7,132.3 554.8,132.4 C554.9,132.5 555.0,132.7 555.1,132.8 C555.2,132.9 555.2,133.1 555.2,133.2Z" fill="#1a2a8a"/>
<path d="M574.9,140.1 C574.9,140.4 574.8,140.7 574.7,140.9 C574.6,141.1 574.4,141.3 574.2,141.5 C574.0,141.7 573.8,141.8 573.5,141.9 C573.2,142.0 573.0,142.0 572.7,141.9 C572.5,141.8 572.2,141.7 572.0,141.5 C571.8,141.3 571.6,141.1 571.5,140.9 C571.4,140.7 571.3,140.4 571.3,140.1 C571.3,139.8 571.4,139.5 571.5,139.3 C571.6,139.1 571.8,138.9 572.0,138.7 C572.2,138.5 572.5,138.4 572.7,138.3 C573.0,138.2 573.2,138.2 573.5,138.3 C573.8,138.4 574.0,138.5 574.2,138.7 C574.4,138.9 574.6,139.1 574.7,139.3 C574.8,139.5 574.9,139.8 574.9,140.1Z" fill="#a81d6b"/>
<path d="M550.8,177.7 C550.8,178.3 550.6,178.9 550.4,179.4 C550.1,179.9 549.8,180.4 549.3,180.8 C548.8,181.2 548.3,181.5 547.7,181.6 C547.1,181.7 546.5,181.7 545.9,181.6 C545.3,181.5 544.8,181.2 544.3,180.8 C543.8,180.4 543.5,179.9 543.2,179.4 C543.0,178.9 542.8,178.3 542.8,177.7 C542.8,177.1 543.0,176.5 543.2,176.0 C543.5,175.5 543.8,175.0 544.3,174.6 C544.8,174.2 545.3,173.9 545.9,173.8 C546.5,173.7 547.1,173.7 547.7,173.8 C548.3,173.9 548.8,174.2 549.3,174.6 C549.8,175.0 550.1,175.5 550.4,176.0 C550.6,176.5 550.8,177.1 550.8,177.7Z" fill="#ffb81a"/>
<path d="M526.8,170.8 C526.8,171.3 526.7,171.8 526.5,172.2 C526.3,172.6 526.0,173.1 525.7,173.4 C525.4,173.7 524.9,173.9 524.5,174.0 C524.1,174.1 523.5,174.1 523.1,174.0 C522.7,173.9 522.2,173.7 521.9,173.4 C521.6,173.1 521.3,172.6 521.1,172.2 C520.9,171.8 520.8,171.3 520.8,170.8 C520.8,170.3 520.9,169.8 521.1,169.4 C521.3,169.0 521.6,168.5 521.9,168.2 C522.2,167.9 522.7,167.7 523.1,167.6 C523.5,167.5 524.1,167.5 524.5,167.6 C524.9,167.7 525.4,167.9 525.7,168.2 C526.0,168.5 526.3,169.0 526.5,169.4 C526.7,169.8 526.8,170.3 526.8,170.8Z" fill="#ffb81a"/>
<path d="M568.4,194.0 C568.4,194.6 568.2,195.2 568.0,195.7 C567.8,196.2 567.4,196.7 566.9,197.1 C566.4,197.5 565.9,197.8 565.3,197.9 C564.7,198.0 564.1,198.0 563.5,197.9 C562.9,197.8 562.4,197.5 561.9,197.1 C561.4,196.7 561.0,196.2 560.8,195.7 C560.5,195.2 560.4,194.6 560.4,194.0 C560.4,193.4 560.5,192.8 560.8,192.3 C561.0,191.8 561.4,191.3 561.9,190.9 C562.4,190.5 562.9,190.2 563.5,190.1 C564.1,190.0 564.7,190.0 565.3,190.1 C565.9,190.2 566.4,190.5 566.9,190.9 C567.4,191.3 567.8,191.8 568.0,192.3 C568.2,192.8 568.4,193.4 568.4,194.0Z" fill="#ffb81a"/>
<path d="M610.6,109.6 C610.6,110.2 610.5,110.8 610.2,111.3 C610.0,111.8 609.6,112.3 609.1,112.7 C608.6,113.1 608.1,113.4 607.5,113.5 C606.9,113.6 606.3,113.6 605.7,113.5 C605.1,113.4 604.6,113.1 604.1,112.7 C603.6,112.3 603.2,111.8 603.0,111.3 C602.8,110.8 602.6,110.2 602.6,109.6 C602.6,109.0 602.8,108.4 603.0,107.9 C603.2,107.4 603.6,106.9 604.1,106.5 C604.6,106.1 605.1,105.8 605.7,105.7 C606.3,105.6 606.9,105.6 607.5,105.7 C608.1,105.8 608.6,106.1 609.1,106.5 C609.6,106.9 610.0,107.4 610.2,107.9 C610.5,108.4 610.6,109.0 610.6,109.6Z" fill="#ffb81a"/>
<path d="M582.4,203.8 C582.4,204.1 582.4,204.5 582.2,204.8 C582.1,205.1 581.8,205.5 581.5,205.7 C581.2,205.9 580.8,206.0 580.5,206.1 C580.2,206.2 579.8,206.2 579.5,206.1 C579.2,206.0 578.8,205.9 578.5,205.7 C578.2,205.5 577.9,205.1 577.8,204.8 C577.6,204.5 577.6,204.1 577.6,203.8 C577.6,203.5 577.6,203.1 577.8,202.8 C577.9,202.5 578.2,202.1 578.5,201.9 C578.8,201.7 579.2,201.6 579.5,201.5 C579.8,201.4 580.2,201.4 580.5,201.5 C580.8,201.6 581.2,201.7 581.5,201.9 C581.8,202.1 582.1,202.5 582.2,202.8 C582.4,203.1 582.4,203.5 582.4,203.8Z" fill="#ffb81a"/>
<path d="M593.1,210.8 C593.1,211.2 593.0,211.7 592.8,212.1 C592.6,212.5 592.3,212.8 592.0,213.1 C591.7,213.4 591.2,213.6 590.8,213.7 C590.4,213.8 589.8,213.8 589.4,213.7 C589.0,213.6 588.5,213.4 588.2,213.1 C587.9,212.8 587.6,212.5 587.4,212.1 C587.2,211.7 587.1,211.2 587.1,210.8 C587.1,210.4 587.2,209.9 587.4,209.5 C587.6,209.1 587.9,208.8 588.2,208.5 C588.5,208.2 589.0,208.0 589.4,207.9 C589.8,207.8 590.4,207.8 590.8,207.9 C591.2,208.0 591.7,208.2 592.0,208.5 C592.3,208.8 592.6,209.1 592.8,209.5 C593.0,209.9 593.1,210.4 593.1,210.8Z" fill="#ffb81a"/>
<path d="M569.0,197.5 C569.0,197.8 568.9,198.1 568.8,198.4 C568.6,198.7 568.4,198.9 568.1,199.1 C567.8,199.3 567.5,199.3 567.2,199.4 C566.9,199.5 566.5,199.5 566.2,199.4 C565.9,199.3 565.6,199.3 565.3,199.1 C565.0,198.9 564.8,198.7 564.6,198.4 C564.5,198.1 564.4,197.8 564.4,197.5 C564.4,197.2 564.5,196.9 564.6,196.6 C564.8,196.3 565.0,196.1 565.3,195.9 C565.6,195.7 565.9,195.7 566.2,195.6 C566.5,195.5 566.9,195.5 567.2,195.6 C567.5,195.7 567.8,195.7 568.1,195.9 C568.4,196.1 568.6,196.3 568.8,196.6 C568.9,196.9 569.0,197.2 569.0,197.5Z" fill="#ffb81a"/>
<path d="M575.8,226.5 C575.8,227.1 575.7,227.8 575.5,228.3 C575.3,228.9 575.0,229.4 574.7,229.8 C574.4,230.2 574.0,230.5 573.6,230.6 C573.2,230.7 572.8,230.7 572.4,230.6 C572.0,230.5 571.6,230.2 571.3,229.8 C571.0,229.4 570.7,228.9 570.5,228.3 C570.3,227.8 570.2,227.1 570.2,226.5 C570.2,225.9 570.3,225.2 570.5,224.7 C570.7,224.1 571.0,223.6 571.3,223.2 C571.6,222.8 572.0,222.5 572.4,222.4 C572.8,222.3 573.2,222.3 573.6,222.4 C574.0,222.5 574.4,222.8 574.7,223.2 C575.0,223.6 575.3,224.1 575.5,224.7 C575.7,225.2 575.8,225.9 575.8,226.5Z" fill="#ffb81a"/>
<path d="M579.3,247.6 C579.3,248.2 579.1,248.8 578.9,249.3 C578.6,249.8 578.2,250.2 577.8,250.6 C577.4,250.9 576.8,251.3 576.3,251.4 C575.8,251.5 575.0,251.5 574.5,251.4 C574.0,251.3 573.4,250.9 573.0,250.6 C572.6,250.2 572.1,249.8 571.9,249.3 C571.6,248.8 571.5,248.2 571.5,247.6 C571.5,247.0 571.6,246.4 571.9,245.9 C572.1,245.4 572.6,244.9 573.0,244.6 C573.4,244.2 574.0,243.9 574.5,243.8 C575.0,243.7 575.8,243.7 576.3,243.8 C576.8,243.9 577.4,244.2 577.8,244.6 C578.2,244.9 578.6,245.4 578.9,245.9 C579.1,246.4 579.3,247.0 579.3,247.6Z" fill="#ffb81a"/>
<path d="M579.5,273.0 C579.7,272.2 581.0,271.8 582.0,273.0 C583.0,274.2 585.1,278.5 585.5,280.0 C585.9,281.5 585.2,282.3 584.5,282.0 C583.8,281.7 581.8,279.5 581.0,278.0 C580.2,276.5 579.3,273.8 579.5,273.0Z" fill="#ffb81a"/>
<path d="M537.0,168.8 C537.0,169.1 536.9,169.4 536.8,169.7 C536.7,170.0 536.5,170.2 536.2,170.4 C536.0,170.6 535.6,170.6 535.3,170.7 C535.0,170.8 534.6,170.8 534.3,170.7 C534.0,170.6 533.6,170.6 533.4,170.4 C533.1,170.2 532.9,170.0 532.8,169.7 C532.7,169.4 532.6,169.1 532.6,168.8 C532.6,168.5 532.7,168.2 532.8,167.9 C532.9,167.6 533.1,167.4 533.4,167.2 C533.6,167.0 534.0,166.9 534.3,166.9 C534.6,166.9 535.0,166.9 535.3,166.9 C535.6,166.9 536.0,167.0 536.2,167.2 C536.5,167.4 536.7,167.6 536.8,167.9 C536.9,168.2 537.0,168.5 537.0,168.8Z" fill="#ff4a12"/>
<path d="M547.2,147.8 C547.2,148.5 547.1,149.3 546.8,150.0 C546.5,150.7 546.1,151.2 545.6,151.7 C545.1,152.1 544.5,152.5 543.9,152.7 C543.3,152.9 542.7,152.9 542.1,152.7 C541.5,152.5 540.9,152.1 540.4,151.7 C539.9,151.2 539.5,150.7 539.2,150.0 C538.9,149.3 538.8,148.5 538.8,147.8 C538.8,147.1 538.9,146.2 539.2,145.6 C539.5,144.9 539.9,144.3 540.4,143.9 C540.9,143.5 541.5,143.1 542.1,142.9 C542.7,142.7 543.3,142.7 543.9,142.9 C544.5,143.1 545.1,143.5 545.6,143.9 C546.1,144.3 546.5,144.9 546.8,145.6 C547.1,146.2 547.2,147.1 547.2,147.8Z" fill="#ffe01a"/>
<path d="M545.6,147.8 C545.6,148.3 545.5,148.8 545.3,149.2 C545.1,149.6 544.9,150.0 544.6,150.3 C544.3,150.6 544.0,150.8 543.6,150.9 C543.2,151.0 542.8,151.0 542.4,150.9 C542.0,150.8 541.7,150.6 541.4,150.3 C541.1,150.0 540.9,149.6 540.7,149.2 C540.5,148.8 540.4,148.3 540.4,147.8 C540.4,147.3 540.5,146.8 540.7,146.4 C540.9,146.0 541.1,145.6 541.4,145.3 C541.7,145.0 542.0,144.8 542.4,144.7 C542.8,144.6 543.2,144.6 543.6,144.7 C544.0,144.8 544.3,145.0 544.6,145.3 C544.9,145.6 545.1,146.0 545.3,146.4 C545.5,146.8 545.6,147.3 545.6,147.8Z" fill="#ffff22"/>
<path d="M544.4,148.0 C544.4,148.3 544.4,148.6 544.3,148.8 C544.2,149.0 544.1,149.2 543.9,149.4 C543.7,149.6 543.5,149.7 543.3,149.8 C543.1,149.9 542.9,149.9 542.7,149.8 C542.5,149.7 542.3,149.6 542.1,149.4 C541.9,149.2 541.8,149.0 541.7,148.8 C541.6,148.6 541.6,148.3 541.6,148.0 C541.6,147.7 541.6,147.4 541.7,147.2 C541.8,147.0 541.9,146.8 542.1,146.6 C542.3,146.4 542.5,146.3 542.7,146.2 C542.9,146.1 543.1,146.1 543.3,146.2 C543.5,146.3 543.7,146.4 543.9,146.6 C544.1,146.8 544.2,147.0 544.3,147.2 C544.4,147.4 544.4,147.7 544.4,148.0Z" fill="#a8dc1e"/>
<path d="M543.7,148.0 C543.7,148.1 543.7,148.3 543.6,148.4 C543.5,148.5 543.5,148.6 543.4,148.7 C543.3,148.8 543.3,148.9 543.2,148.9 C543.1,148.9 542.9,148.9 542.8,148.9 C542.7,148.9 542.7,148.8 542.6,148.7 C542.5,148.6 542.5,148.5 542.4,148.4 C542.3,148.3 542.3,148.1 542.3,148.0 C542.3,147.9 542.3,147.7 542.4,147.6 C542.5,147.5 542.5,147.4 542.6,147.3 C542.7,147.2 542.7,147.1 542.8,147.1 C542.9,147.1 543.1,147.1 543.2,147.1 C543.3,147.1 543.3,147.2 543.4,147.3 C543.5,147.4 543.5,147.5 543.6,147.6 C543.7,147.7 543.7,147.9 543.7,148.0Z" fill="#3cbe28"/>
<path d="M550.5,161.0 C550.5,161.5 550.3,162.1 550.1,162.6 C549.9,163.1 549.5,163.5 549.1,163.8 C548.7,164.1 548.2,164.4 547.7,164.5 C547.2,164.6 546.6,164.6 546.1,164.5 C545.6,164.4 545.1,164.1 544.7,163.8 C544.3,163.5 543.9,163.1 543.7,162.6 C543.5,162.1 543.3,161.5 543.3,161.0 C543.3,160.5 543.5,159.9 543.7,159.4 C543.9,158.9 544.3,158.5 544.7,158.2 C545.1,157.9 545.6,157.6 546.1,157.5 C546.6,157.4 547.2,157.4 547.7,157.5 C548.2,157.6 548.7,157.9 549.1,158.2 C549.5,158.5 549.9,158.9 550.1,159.4 C550.3,159.9 550.5,160.5 550.5,161.0Z" fill="#ffe01a"/>
<path d="M549.1,161.0 C549.1,161.3 549.0,161.7 548.9,162.0 C548.8,162.3 548.5,162.5 548.3,162.7 C548.0,162.9 547.7,163.0 547.4,163.1 C547.1,163.2 546.7,163.2 546.4,163.1 C546.1,163.0 545.8,162.9 545.5,162.7 C545.2,162.5 545.0,162.3 544.9,162.0 C544.8,161.7 544.7,161.3 544.7,161.0 C544.7,160.7 544.8,160.3 544.9,160.0 C545.0,159.7 545.2,159.5 545.5,159.3 C545.8,159.1 546.1,159.0 546.4,158.9 C546.7,158.8 547.1,158.8 547.4,158.9 C547.7,159.0 548.0,159.1 548.3,159.3 C548.5,159.5 548.8,159.7 548.9,160.0 C549.0,160.3 549.1,160.7 549.1,161.0Z" fill="#ffff22"/>
<path d="M548.0,161.0 C548.0,161.2 548.0,161.3 547.9,161.5 C547.8,161.7 547.7,161.8 547.6,161.9 C547.5,162.0 547.2,162.1 547.1,162.1 C547.0,162.1 546.9,162.1 546.7,162.1 C546.6,162.1 546.3,162.0 546.2,161.9 C546.1,161.8 546.0,161.7 545.9,161.5 C545.8,161.3 545.8,161.2 545.8,161.0 C545.8,160.8 545.8,160.7 545.9,160.5 C546.0,160.3 546.1,160.2 546.2,160.1 C546.3,160.0 546.6,159.9 546.7,159.9 C546.9,159.9 547.0,159.9 547.1,159.9 C547.2,159.9 547.5,160.0 547.6,160.1 C547.7,160.2 547.8,160.3 547.9,160.5 C548.0,160.7 548.0,160.8 548.0,161.0Z" fill="#a8dc1e"/>
<path d="M625.6,101.4 C625.6,101.8 625.5,102.2 625.3,102.6 C625.1,103.0 624.8,103.3 624.4,103.6 C624.0,103.8 623.5,104.0 623.1,104.1 C622.7,104.2 622.2,104.2 621.7,104.1 C621.2,104.0 620.8,103.8 620.4,103.6 C620.0,103.3 619.7,103.0 619.5,102.6 C619.3,102.2 619.2,101.8 619.2,101.4 C619.2,101.0 619.3,100.6 619.5,100.2 C619.7,99.8 620.0,99.5 620.4,99.2 C620.8,99.0 621.2,98.8 621.7,98.7 C622.2,98.6 622.7,98.6 623.1,98.7 C623.5,98.8 624.0,99.0 624.4,99.2 C624.8,99.5 625.1,99.8 625.3,100.2 C625.5,100.6 625.6,101.0 625.6,101.4Z" fill="#ffe01a"/>
<path d="M624.5,101.4 C624.5,101.7 624.4,102.0 624.3,102.2 C624.2,102.5 623.9,102.7 623.7,102.9 C623.5,103.1 623.2,103.2 622.9,103.3 C622.6,103.4 622.2,103.4 621.9,103.3 C621.6,103.2 621.3,103.1 621.1,102.9 C620.9,102.7 620.6,102.5 620.5,102.2 C620.4,102.0 620.3,101.7 620.3,101.4 C620.3,101.1 620.4,100.8 620.5,100.6 C620.6,100.3 620.9,100.1 621.1,99.9 C621.3,99.7 621.6,99.6 621.9,99.5 C622.2,99.4 622.6,99.4 622.9,99.5 C623.2,99.6 623.5,99.7 623.7,99.9 C623.9,100.1 624.2,100.3 624.3,100.6 C624.4,100.8 624.5,101.1 624.5,101.4Z" fill="#ffff22"/>
<path d="M624.2,101.4 C624.2,101.5 624.2,101.7 624.1,101.8 C624.0,101.9 623.9,102.0 623.8,102.1 C623.7,102.2 623.5,102.3 623.4,102.3 C623.3,102.3 623.1,102.3 623.0,102.3 C622.9,102.3 622.7,102.2 622.6,102.1 C622.5,102.0 622.4,101.9 622.3,101.8 C622.2,101.7 622.2,101.5 622.2,101.4 C622.2,101.3 622.2,101.1 622.3,101.0 C622.4,100.9 622.5,100.8 622.6,100.7 C622.7,100.6 622.9,100.5 623.0,100.5 C623.1,100.5 623.3,100.5 623.4,100.5 C623.5,100.5 623.7,100.6 623.8,100.7 C623.9,100.8 624.0,100.9 624.1,101.0 C624.2,101.1 624.2,101.3 624.2,101.4Z" fill="#a8dc1e"/>
<path d="M547.1,161.0 C547.1,161.0 547.1,161.0 547.1,161.0 C547.1,161.0 547.1,161.1 547.1,161.1 C547.1,161.1 547.0,161.1 547.0,161.1 C547.0,161.1 547.0,161.1 547.0,161.1 C547.0,161.1 546.9,161.1 546.9,161.1 C546.9,161.1 546.9,161.0 546.9,161.0 C546.9,161.0 546.9,161.0 546.9,161.0 C546.9,161.0 546.9,161.0 546.9,161.0 C546.9,161.0 546.9,160.9 546.9,160.9 C546.9,160.9 547.0,160.9 547.0,160.9 C547.0,160.9 547.0,160.9 547.0,160.9 C547.0,160.9 547.1,160.9 547.1,160.9 C547.1,160.9 547.1,161.0 547.1,161.0 C547.1,161.0 547.1,161.0 547.1,161.0Z" fill="#ffe01a"/>
<path d="M632.0,104.0 C632.6,102.5 633.5,100.8 635.0,100.0 C636.5,99.2 639.2,99.0 641.0,99.5 C642.8,100.0 644.9,101.4 646.0,103.0 C647.1,104.6 647.5,107.2 647.5,109.0 C647.5,110.8 646.9,112.5 646.0,114.0 C645.1,115.5 643.5,117.4 642.0,118.0 C640.5,118.6 638.4,118.2 637.0,117.5 C635.6,116.8 634.4,115.4 633.5,114.0 C632.6,112.6 631.8,110.7 631.5,109.0 C631.2,107.3 631.4,105.5 632.0,104.0Z" fill="#a81d6b"/>
<path d="M630.9,122.2 C630.9,122.7 630.8,123.2 630.6,123.6 C630.4,124.0 630.0,124.4 629.6,124.7 C629.2,125.0 628.7,125.2 628.2,125.3 C627.7,125.4 627.1,125.4 626.6,125.3 C626.1,125.2 625.6,125.0 625.2,124.7 C624.8,124.4 624.4,124.0 624.2,123.6 C624.0,123.2 623.9,122.7 623.9,122.2 C623.9,121.7 624.0,121.2 624.2,120.8 C624.4,120.4 624.8,120.0 625.2,119.7 C625.6,119.4 626.1,119.2 626.6,119.1 C627.1,119.0 627.7,119.0 628.2,119.1 C628.7,119.2 629.2,119.4 629.6,119.7 C630.0,120.0 630.4,120.4 630.6,120.8 C630.8,121.2 630.9,121.7 630.9,122.2Z" fill="#a81d6b"/>
<path d="M585.1,127.3 C585.1,127.7 585.0,128.1 584.9,128.4 C584.8,128.7 584.5,129.1 584.2,129.3 C583.9,129.5 583.6,129.6 583.2,129.7 C582.8,129.8 582.4,129.8 582.0,129.7 C581.6,129.6 581.3,129.5 581.0,129.3 C580.7,129.1 580.4,128.7 580.3,128.4 C580.1,128.1 580.1,127.7 580.1,127.3 C580.1,126.9 580.1,126.5 580.3,126.2 C580.4,125.9 580.7,125.5 581.0,125.3 C581.3,125.1 581.6,125.0 582.0,124.9 C582.4,124.8 582.8,124.8 583.2,124.9 C583.6,125.0 583.9,125.1 584.2,125.3 C584.5,125.5 584.8,125.9 584.9,126.2 C585.0,126.5 585.1,126.9 585.1,127.3Z" fill="#a81d6b"/>
<path d="M596.0,169.0 C596.0,170.7 595.6,172.6 595.0,174.2 C594.4,175.8 593.3,177.3 592.2,178.4 C591.1,179.5 589.6,180.3 588.2,180.7 C586.8,181.1 585.2,181.1 583.8,180.7 C582.4,180.3 580.9,179.5 579.8,178.4 C578.7,177.3 577.6,175.8 577.0,174.2 C576.4,172.6 576.0,170.7 576.0,169.0 C576.0,167.3 576.4,165.4 577.0,163.8 C577.6,162.2 578.7,160.7 579.8,159.6 C580.9,158.5 582.4,157.7 583.8,157.3 C585.2,156.9 586.8,156.9 588.2,157.3 C589.6,157.7 591.1,158.5 592.2,159.6 C593.3,160.7 594.4,162.2 595.0,163.8 C595.6,165.4 596.0,167.3 596.0,169.0Z" fill="#a81d6b"/>
<path d="M576.0,174.5 C576.0,175.2 575.7,176.0 575.2,176.7 C574.7,177.3 573.9,177.9 573.0,178.4 C572.1,178.9 570.9,179.2 569.8,179.4 C568.7,179.6 567.3,179.6 566.2,179.4 C565.1,179.2 563.9,178.9 563.0,178.4 C562.1,177.9 561.3,177.3 560.8,176.7 C560.3,176.0 560.0,175.2 560.0,174.5 C560.0,173.8 560.3,173.0 560.8,172.3 C561.3,171.7 562.1,171.1 563.0,170.6 C563.9,170.1 565.1,169.8 566.2,169.6 C567.3,169.4 568.7,169.4 569.8,169.6 C570.9,169.8 572.1,170.1 573.0,170.6 C573.9,171.1 574.7,171.7 575.2,172.3 C575.7,173.0 576.0,173.8 576.0,174.5Z" fill="#a81d6b"/>
<path d="M604.0,191.0 C604.0,192.0 603.7,193.1 603.1,194.0 C602.5,194.9 601.6,195.9 600.6,196.5 C599.6,197.1 598.3,197.6 597.0,197.8 C595.7,198.0 594.3,198.0 593.0,197.8 C591.7,197.6 590.4,197.1 589.4,196.5 C588.4,195.9 587.5,194.9 586.9,194.0 C586.3,193.1 586.0,192.0 586.0,191.0 C586.0,190.0 586.3,188.9 586.9,188.0 C587.5,187.1 588.4,186.1 589.4,185.5 C590.4,184.9 591.7,184.4 593.0,184.2 C594.3,184.0 595.7,184.0 597.0,184.2 C598.3,184.4 599.6,184.9 600.6,185.5 C601.6,186.1 602.5,187.1 603.1,188.0 C603.7,188.9 604.0,190.0 604.0,191.0Z" fill="#a81d6b"/>
<path d="M590.0,199.0 C590.7,197.5 595.3,197.5 598.0,197.0 C600.7,196.5 603.2,196.7 606.0,196.0 C608.8,195.3 612.3,192.5 615.0,193.0 C617.7,193.5 619.7,197.0 622.0,199.0 C624.3,201.0 627.7,202.8 629.0,205.0 C630.3,207.2 630.2,209.8 630.0,212.0 C629.8,214.2 627.3,216.2 628.0,218.0 C628.7,219.8 632.5,221.0 634.0,223.0 C635.5,225.0 636.7,227.2 637.0,230.0 C637.3,232.8 636.7,237.8 636.0,240.0 C635.3,242.2 634.7,243.7 633.0,243.0 C631.3,242.3 628.2,237.7 626.0,236.0 C623.8,234.3 622.0,233.0 620.0,233.0 C618.0,233.0 616.0,236.2 614.0,236.0 C612.0,235.8 609.7,233.3 608.0,232.0 C606.3,230.7 605.7,229.2 604.0,228.0 C602.3,226.8 599.7,226.0 598.0,225.0 C596.3,224.0 595.0,223.5 594.0,222.0 C593.0,220.5 591.7,217.7 592.0,216.0 C592.3,214.3 595.7,213.7 596.0,212.0 C596.3,210.3 595.0,208.2 594.0,206.0 C593.0,203.8 589.3,200.5 590.0,199.0Z" fill="#a81d6b"/>
<path d="M608.0,219.0 C609.5,218.2 613.3,218.2 616.0,218.5 C618.7,218.8 622.3,219.9 624.0,221.0 C625.7,222.1 626.7,224.0 626.0,225.0 C625.3,226.0 622.3,226.8 620.0,227.0 C617.7,227.2 614.2,226.7 612.0,226.0 C609.8,225.3 607.7,224.2 607.0,223.0 C606.3,221.8 606.5,219.8 608.0,219.0Z" fill="#e8192c"/>
<path d="M590.0,238.0 C591.5,236.5 594.7,235.5 597.0,235.0 C599.3,234.5 601.5,233.7 604.0,235.0 C606.5,236.3 609.3,240.2 612.0,243.0 C614.7,245.8 618.3,249.8 620.0,252.0 C621.7,254.2 623.0,254.5 622.0,256.0 C621.0,257.5 616.3,260.0 614.0,261.0 C611.7,262.0 609.7,260.5 608.0,262.0 C606.3,263.5 604.0,266.7 604.0,270.0 C604.0,273.3 607.2,277.7 608.0,282.0 C608.8,286.3 609.8,294.3 609.0,296.0 C608.2,297.7 605.0,294.0 603.0,292.0 C601.0,290.0 599.2,285.3 597.0,284.0 C594.8,282.7 592.0,285.3 590.0,284.0 C588.0,282.7 586.2,278.7 585.0,276.0 C583.8,273.3 582.8,271.0 583.0,268.0 C583.2,265.0 584.8,261.0 586.0,258.0 C587.2,255.0 589.7,252.3 590.0,250.0 C590.3,247.7 588.0,246.0 588.0,244.0 C588.0,242.0 588.5,239.5 590.0,238.0Z" fill="#a81d6b"/>
<path d="M560.5,242.6 C560.5,243.2 560.4,243.8 560.1,244.3 C559.9,244.8 559.5,245.3 559.0,245.7 C558.5,246.1 558.0,246.4 557.4,246.5 C556.8,246.6 556.2,246.6 555.6,246.5 C555.0,246.4 554.5,246.1 554.0,245.7 C553.5,245.3 553.1,244.8 552.9,244.3 C552.6,243.8 552.5,243.2 552.5,242.6 C552.5,242.0 552.6,241.4 552.9,240.9 C553.1,240.4 553.5,239.9 554.0,239.5 C554.5,239.1 555.0,238.8 555.6,238.7 C556.2,238.6 556.8,238.6 557.4,238.7 C558.0,238.8 558.5,239.1 559.0,239.5 C559.5,239.9 559.9,240.4 560.1,240.9 C560.4,241.4 560.5,242.0 560.5,242.6Z" fill="#a81d6b"/>
<path d="M581.0,261.0 C581.0,262.1 580.8,263.3 580.5,264.3 C580.2,265.3 579.7,266.2 579.1,266.9 C578.5,267.6 577.8,268.1 577.1,268.3 C576.4,268.5 575.6,268.5 574.9,268.3 C574.2,268.1 573.5,267.6 572.9,266.9 C572.3,266.2 571.8,265.3 571.5,264.3 C571.2,263.3 571.0,262.1 571.0,261.0 C571.0,259.9 571.2,258.7 571.5,257.7 C571.8,256.7 572.3,255.8 572.9,255.1 C573.5,254.4 574.2,253.9 574.9,253.7 C575.6,253.5 576.4,253.5 577.1,253.7 C577.8,253.9 578.5,254.4 579.1,255.1 C579.7,255.8 580.2,256.7 580.5,257.7 C580.8,258.7 581.0,259.9 581.0,261.0Z" fill="#a81d6b"/>
<path d="M685.6,330.0 L715.0,330.0 L715.0,360.0 L685.6,360.0Z" fill="#a81d6b"/>
<path d="M695.7,347.2 C695.7,347.7 695.6,348.2 695.4,348.6 C695.2,349.0 694.9,349.4 694.5,349.7 C694.1,350.0 693.7,350.2 693.2,350.3 C692.8,350.4 692.2,350.4 691.8,350.3 C691.3,350.2 690.9,350.0 690.5,349.7 C690.1,349.4 689.8,349.0 689.6,348.6 C689.4,348.2 689.3,347.7 689.3,347.2 C689.3,346.7 689.4,346.2 689.6,345.8 C689.8,345.4 690.1,345.0 690.5,344.7 C690.9,344.4 691.3,344.2 691.8,344.1 C692.2,344.0 692.8,344.0 693.2,344.1 C693.7,344.2 694.1,344.4 694.5,344.7 C694.9,345.0 695.2,345.4 695.4,345.8 C695.6,346.2 695.7,346.7 695.7,347.2Z" fill="#e8192c"/>
<path d="M629.0,341.0 C629.0,341.2 628.9,341.4 628.7,341.6 C628.5,341.8 628.2,341.9 627.9,342.0 C627.6,342.1 627.1,342.2 626.7,342.3 C626.3,342.4 625.7,342.4 625.3,342.3 C624.9,342.2 624.4,342.1 624.1,342.0 C623.8,341.9 623.5,341.8 623.3,341.6 C623.1,341.4 623.0,341.2 623.0,341.0 C623.0,340.8 623.1,340.6 623.3,340.4 C623.5,340.2 623.8,340.1 624.1,340.0 C624.4,339.9 624.9,339.8 625.3,339.7 C625.7,339.6 626.3,339.6 626.7,339.7 C627.1,339.8 627.6,339.9 627.9,340.0 C628.2,340.1 628.5,340.2 628.7,340.4 C628.9,340.6 629.0,340.8 629.0,341.0Z" fill="#e8192c"/>
<path d="M588.3,165.8 C588.3,166.2 588.2,166.6 588.1,166.9 C588.0,167.2 587.7,167.6 587.4,167.8 C587.1,168.0 586.8,168.1 586.4,168.2 C586.0,168.3 585.6,168.3 585.2,168.2 C584.8,168.1 584.5,168.0 584.2,167.8 C583.9,167.6 583.6,167.2 583.5,166.9 C583.4,166.6 583.3,166.2 583.3,165.8 C583.3,165.4 583.4,165.0 583.5,164.7 C583.6,164.4 583.9,164.0 584.2,163.8 C584.5,163.6 584.8,163.5 585.2,163.4 C585.6,163.3 586.0,163.3 586.4,163.4 C586.8,163.5 587.1,163.6 587.4,163.8 C587.7,164.0 588.0,164.4 588.1,164.7 C588.2,165.0 588.3,165.4 588.3,165.8Z" fill="#5f1a9e"/>
<path d="M594.0,195.3 C594.0,195.7 593.9,196.2 593.6,196.5 C593.4,196.8 593.0,197.2 592.5,197.4 C592.0,197.6 591.5,197.8 590.9,197.9 C590.3,198.0 589.7,198.0 589.1,197.9 C588.5,197.8 588.0,197.6 587.5,197.4 C587.0,197.2 586.6,196.8 586.4,196.5 C586.1,196.2 586.0,195.7 586.0,195.3 C586.0,194.9 586.1,194.4 586.4,194.1 C586.6,193.8 587.0,193.4 587.5,193.2 C588.0,193.0 588.5,192.8 589.1,192.7 C589.7,192.6 590.3,192.6 590.9,192.7 C591.5,192.8 592.0,193.0 592.5,193.2 C593.0,193.4 593.4,193.8 593.6,194.1 C593.9,194.4 594.0,194.9 594.0,195.3Z" fill="#5f1a9e"/>
<path d="M586.0,194.0 C587.0,193.1 590.2,192.2 592.0,192.5 C593.8,192.8 595.7,194.4 597.0,196.0 C598.3,197.6 598.5,200.3 600.0,202.0 C601.5,203.7 604.7,204.5 606.0,206.0 C607.3,207.5 607.8,209.5 608.0,211.0 C608.2,212.5 608.0,214.1 607.0,215.0 C606.0,215.9 603.7,216.8 602.0,216.5 C600.3,216.2 598.5,214.4 597.0,213.0 C595.5,211.6 594.2,209.8 593.0,208.0 C591.8,206.2 591.2,203.7 590.0,202.0 C588.8,200.3 586.7,199.3 586.0,198.0 C585.3,196.7 585.0,194.9 586.0,194.0Z" fill="#5f1a9e"/>
<path d="M621.0,229.0 C621.7,227.7 624.2,226.2 626.0,226.0 C627.8,225.8 630.3,226.5 632.0,227.5 C633.7,228.5 635.2,230.2 636.0,232.0 C636.8,233.8 636.5,235.7 637.0,238.0 C637.5,240.3 639.3,244.8 639.0,246.0 C638.7,247.2 636.3,246.0 635.0,245.0 C633.7,244.0 632.5,241.3 631.0,240.0 C629.5,238.7 627.5,238.0 626.0,237.0 C624.5,236.0 622.8,235.3 622.0,234.0 C621.2,232.7 620.3,230.3 621.0,229.0Z" fill="#5f1a9e"/>
<path d="M591.0,239.0 C592.2,237.7 595.2,236.8 597.0,237.0 C598.8,237.2 600.3,238.5 601.5,240.0 C602.7,241.5 602.6,244.5 604.0,246.0 C605.4,247.5 608.0,248.0 610.0,249.0 C612.0,250.0 613.9,251.0 616.0,252.0 C618.1,253.0 622.7,253.6 622.5,255.0 C622.3,256.4 617.2,259.2 615.0,260.5 C612.8,261.8 610.5,263.2 609.0,262.5 C607.5,261.8 607.5,257.8 606.0,256.0 C604.5,254.2 602.0,253.0 600.0,252.0 C598.0,251.0 595.7,251.2 594.0,250.0 C592.3,248.8 590.5,246.8 590.0,245.0 C589.5,243.2 589.8,240.3 591.0,239.0Z" fill="#5f1a9e"/>
<path d="M584.0,266.0 C585.0,264.2 587.7,263.5 590.0,263.0 C592.3,262.5 595.8,262.2 598.0,263.0 C600.2,263.8 601.7,265.8 603.0,268.0 C604.3,270.2 605.2,273.5 606.0,276.0 C606.8,278.5 608.3,280.8 608.0,283.0 C607.7,285.2 605.3,288.8 604.0,289.0 C602.7,289.2 601.5,285.3 600.0,284.0 C598.5,282.7 596.7,281.0 595.0,281.0 C593.3,281.0 591.3,284.2 590.0,284.0 C588.7,283.8 588.0,281.7 587.0,280.0 C586.0,278.3 584.5,276.3 584.0,274.0 C583.5,271.7 583.0,267.8 584.0,266.0Z" fill="#5f1a9e"/>
<path d="M576.5,264.0 C576.5,264.4 576.4,264.8 576.3,265.1 C576.1,265.4 575.9,265.8 575.6,266.0 C575.3,266.2 574.9,266.4 574.6,266.5 C574.3,266.6 573.9,266.6 573.6,266.5 C573.3,266.4 572.9,266.2 572.6,266.0 C572.3,265.8 572.0,265.4 571.9,265.1 C571.8,264.8 571.7,264.4 571.7,264.0 C571.7,263.6 571.8,263.2 571.9,262.9 C572.0,262.6 572.3,262.2 572.6,262.0 C572.9,261.8 573.3,261.6 573.6,261.5 C573.9,261.4 574.3,261.4 574.6,261.5 C574.9,261.6 575.3,261.8 575.6,262.0 C575.9,262.2 576.1,262.6 576.3,262.9 C576.4,263.2 576.5,263.6 576.5,264.0Z" fill="#5f1a9e"/>
<path d="M615.0,320.0 L685.6,320.0 L685.6,360.0 L615.0,360.0Z" fill="#5f1a9e"/>
<path d="M629.0,341.3 C629.0,341.5 628.9,341.7 628.7,341.8 C628.5,341.9 628.2,342.1 627.9,342.2 C627.6,342.3 627.1,342.4 626.7,342.5 C626.3,342.6 625.7,342.6 625.3,342.5 C624.9,342.4 624.4,342.3 624.1,342.2 C623.8,342.1 623.5,341.9 623.3,341.8 C623.1,341.7 623.0,341.5 623.0,341.3 C623.0,341.1 623.1,341.0 623.3,340.8 C623.5,340.6 623.8,340.5 624.1,340.4 C624.4,340.3 624.9,340.2 625.3,340.1 C625.7,340.1 626.3,340.1 626.7,340.1 C627.1,340.2 627.6,340.3 627.9,340.4 C628.2,340.5 628.5,340.6 628.7,340.8 C628.9,341.0 629.0,341.1 629.0,341.3Z" fill="#e8192c"/>
<path d="M750.0,290.0 L775.0,290.0 L775.0,320.0 L750.0,320.0Z" fill="#a81d6b"/>
<path d="M762.0,303.0 C763.0,301.7 764.7,300.0 765.5,300.0 C766.3,300.0 767.0,301.7 767.0,303.0 C767.0,304.3 766.5,306.6 765.5,308.0 C764.5,309.4 762.2,310.7 761.0,311.5 C759.8,312.3 758.8,313.6 758.5,313.0 C758.2,312.4 758.9,309.7 759.5,308.0 C760.1,306.3 761.0,304.3 762.0,303.0Z" fill="#5f1a9e"/>
<path d="M770.2,296.2 C770.2,296.5 770.1,296.8 770.0,297.0 C769.9,297.2 769.8,297.4 769.6,297.6 C769.4,297.8 769.2,297.9 769.0,298.0 C768.8,298.1 768.4,298.1 768.2,298.0 C768.0,297.9 767.8,297.8 767.6,297.6 C767.4,297.4 767.3,297.2 767.2,297.0 C767.1,296.8 767.0,296.5 767.0,296.2 C767.0,295.9 767.1,295.6 767.2,295.4 C767.3,295.2 767.4,295.0 767.6,294.8 C767.8,294.6 768.0,294.5 768.2,294.4 C768.4,294.3 768.8,294.3 769.0,294.4 C769.2,294.5 769.4,294.6 769.6,294.8 C769.8,295.0 769.9,295.2 770.0,295.4 C770.1,295.6 770.2,295.9 770.2,296.2Z" fill="#e8192c"/>
<path d="M770.2,295.2 C770.2,295.4 770.2,295.5 770.1,295.7 C770.0,295.9 769.9,296.0 769.8,296.1 C769.7,296.2 769.5,296.3 769.4,296.3 C769.3,296.3 769.1,296.3 769.0,296.3 C768.9,296.3 768.7,296.2 768.6,296.1 C768.5,296.0 768.4,295.9 768.3,295.7 C768.2,295.5 768.2,295.4 768.2,295.2 C768.2,295.0 768.2,294.8 768.3,294.7 C768.4,294.6 768.5,294.4 768.6,294.3 C768.7,294.2 768.9,294.1 769.0,294.1 C769.1,294.1 769.3,294.1 769.4,294.1 C769.5,294.1 769.7,294.2 769.8,294.3 C769.9,294.4 770.0,294.6 770.1,294.7 C770.2,294.8 770.2,295.0 770.2,295.2Z" fill="#ff4a12"/>
<path d="M701.4,186.5 C701.4,186.9 701.3,187.3 701.1,187.6 C700.9,187.9 700.5,188.3 700.1,188.5 C699.7,188.7 699.3,188.9 698.8,189.0 C698.3,189.1 697.7,189.1 697.2,189.0 C696.7,188.9 696.3,188.7 695.9,188.5 C695.5,188.3 695.1,187.9 694.9,187.6 C694.7,187.3 694.6,186.9 694.6,186.5 C694.6,186.1 694.7,185.7 694.9,185.4 C695.1,185.1 695.5,184.7 695.9,184.5 C696.3,184.3 696.7,184.1 697.2,184.0 C697.7,183.9 698.3,183.9 698.8,184.0 C699.3,184.1 699.7,184.3 700.1,184.5 C700.5,184.7 700.9,185.1 701.1,185.4 C701.3,185.7 701.4,186.1 701.4,186.5Z" fill="#ff4a12"/>
<path d="M716.5,190.5 C716.5,190.9 716.4,191.3 716.3,191.6 C716.2,191.9 715.9,192.3 715.7,192.5 C715.5,192.7 715.2,192.9 714.9,193.0 C714.6,193.1 714.4,193.1 714.1,193.0 C713.8,192.9 713.5,192.7 713.3,192.5 C713.1,192.3 712.8,191.9 712.7,191.6 C712.6,191.3 712.5,190.9 712.5,190.5 C712.5,190.1 712.6,189.7 712.7,189.4 C712.8,189.1 713.1,188.7 713.3,188.5 C713.5,188.3 713.8,188.1 714.1,188.0 C714.4,187.9 714.6,187.9 714.9,188.0 C715.2,188.1 715.5,188.3 715.7,188.5 C715.9,188.7 716.2,189.1 716.3,189.4 C716.4,189.7 716.5,190.1 716.5,190.5Z" fill="#ff4a12"/>
<path d="M692.0,209.0 L704.0,209.0 L704.0,217.0 L699.0,219.0 L694.0,214.0Z" fill="#ff4a12"/>
<path d="M719.1,244.6 C719.1,244.8 719.0,245.1 718.9,245.3 C718.8,245.5 718.7,245.8 718.5,245.9 C718.3,246.1 718.1,246.1 717.9,246.2 C717.7,246.2 717.3,246.2 717.1,246.2 C716.9,246.1 716.7,246.1 716.5,245.9 C716.3,245.8 716.2,245.5 716.1,245.3 C716.0,245.1 715.9,244.8 715.9,244.6 C715.9,244.4 716.0,244.1 716.1,243.9 C716.2,243.7 716.3,243.5 716.5,243.3 C716.7,243.2 716.9,243.1 717.1,243.0 C717.3,242.9 717.7,242.9 717.9,243.0 C718.1,243.1 718.3,243.2 718.5,243.3 C718.7,243.5 718.8,243.7 718.9,243.9 C719.0,244.1 719.1,244.4 719.1,244.6Z" fill="#ff4a12"/>
<path d="M740.7,278.0 C740.7,278.2 740.6,278.4 740.5,278.6 C740.4,278.8 740.1,279.0 739.9,279.1 C739.6,279.2 739.3,279.3 739.0,279.4 C738.7,279.4 738.3,279.4 738.0,279.4 C737.7,279.3 737.4,279.2 737.1,279.1 C736.9,279.0 736.6,278.8 736.5,278.6 C736.4,278.4 736.3,278.2 736.3,278.0 C736.3,277.8 736.4,277.6 736.5,277.4 C736.6,277.2 736.9,277.0 737.1,276.9 C737.4,276.8 737.7,276.7 738.0,276.6 C738.3,276.6 738.7,276.6 739.0,276.6 C739.3,276.7 739.6,276.8 739.9,276.9 C740.1,277.0 740.4,277.2 740.5,277.4 C740.6,277.6 740.7,277.8 740.7,278.0Z" fill="#a81d6b"/>
<path d="M653.0,232.0 C653.0,232.4 652.9,232.8 652.8,233.1 C652.6,233.4 652.4,233.8 652.1,234.0 C651.8,234.2 651.5,234.3 651.1,234.4 C650.7,234.5 650.3,234.5 649.9,234.4 C649.5,234.3 649.2,234.2 648.9,234.0 C648.6,233.8 648.4,233.4 648.2,233.1 C648.1,232.8 648.0,232.4 648.0,232.0 C648.0,231.6 648.1,231.2 648.2,230.9 C648.4,230.6 648.6,230.2 648.9,230.0 C649.2,229.8 649.5,229.7 649.9,229.6 C650.3,229.5 650.7,229.5 651.1,229.6 C651.5,229.7 651.8,229.8 652.1,230.0 C652.4,230.2 652.6,230.6 652.8,230.9 C652.9,231.2 653.0,231.6 653.0,232.0Z" fill="#a01228"/>
<path d="M554.3,179.0 L558.1,185.2 L560.6,192.8 L563.2,201.6 L572.0,202.9 L575.8,212.0 L574.0,218.0 M558.1,185.2 L565.7,182.7 L572.0,190.3 L580.8,189.0 L583.3,184.0 L589.7,185.2 L593.4,192.8 L593.0,199.0 M544.0,120.0 L548.0,128.0 L554.0,131.0 L560.0,140.0 L568.0,144.0 L574.0,150.0 L578.0,158.0 L573.0,164.0 L566.0,166.0 L558.0,166.0 L554.3,179.0 M574.0,150.0 L582.0,147.0 L588.0,140.0 L595.0,136.0 M578.0,158.0 L586.0,157.0 L596.0,157.0 M566.0,166.0 L570.0,172.0 L578.0,176.0 L586.0,182.0 L583.3,184.0 M586.0,182.0 L596.0,180.0 L606.0,178.0 M572.0,112.0 L576.0,122.0 L584.0,130.0 L588.0,140.0 M600.0,104.0 L602.0,114.0 L598.0,122.0 L603.0,130.0 M620.0,98.0 L622.0,108.0 L626.0,116.0 L628.0,124.0 M638.0,94.0 L641.0,104.0 L646.0,112.0 L648.0,120.0 M663.0,99.0 L664.0,108.0 L662.0,117.0 M681.0,103.0 L683.0,111.0 L682.0,119.0 M536.0,150.0 L542.0,158.0 L540.0,168.0 L534.0,176.0 L528.0,182.0 M540.0,168.0 L548.0,172.0 L554.3,179.0 M534.0,176.0 L542.0,182.0 L548.0,190.0 L549.0,193.0 M575.8,212.0 L584.0,212.0 L590.0,206.0 L596.0,202.0 M590.0,206.0 L594.0,214.0 L592.0,219.0 M604.0,204.0 L606.0,212.0 L612.0,218.0 L614.0,226.0 L610.0,232.0 M614.0,226.0 L622.0,224.0 L628.0,220.0 M569.0,221.0 L571.0,230.0 L566.0,238.0 L560.0,240.0 L552.0,236.0 M571.0,230.0 L580.0,234.0 L588.0,232.0 L592.0,229.0 M580.0,234.0 L582.0,242.0 L578.0,250.0 L570.0,254.0 L562.0,253.0 M582.0,242.0 L590.0,244.0 L596.0,242.0 L600.0,236.0 L604.0,234.0 M590.0,244.0 L592.0,252.0 L598.0,252.0 M578.0,250.0 L582.0,258.0 L580.0,266.0 L576.0,272.0 M582.0,258.0 L590.0,258.0 L596.0,262.0 L602.0,263.0 M570.0,254.0 L566.0,262.0 L568.0,270.0 L573.0,274.0 M643.0,337.0 L645.0,344.0 M660.0,336.0 L661.0,353.0 M686.0,339.5 L686.5,350.0" fill="none" stroke="#3a1a1a" stroke-width="0.45" stroke-opacity="0.7" stroke-linejoin="round"/>
</g>
<path d="M519.6,166.3 L520.4,166.0 L524.2,161.6 L523.5,155.3 L526.7,151.5 L533.0,149.6 L535.5,144.6 L539.3,138.9 L540.6,135.1 L544.3,131.4 L546.9,126.3 L545.0,122.5 L544.3,120.4 L548.0,120.4 L555.7,117.9 L565.8,116.6 L570.5,113.5 L575.0,108.5 L582.6,107.1 L590.2,107.9 L597.8,105.8 L600.3,100.8 L606.6,100.1 L612.9,99.5 L620.5,97.6 L629.3,97.6 L635.6,97.0 L638.8,93.8 L645.0,92.4 L652.6,92.4 L655.1,96.8 L661.4,99.3 L666.5,100.0 L671.5,103.1 L675.3,105.0 L681.6,103.1 L690.5,101.9 L696.8,101.2 L701.8,98.7 L702.4,92.4 L699.9,87.4 L701.8,84.8 L708.1,85.5 L714.4,89.2 L715.7,94.9 L715.1,100.0 L710.6,101.9 L706.9,106.3 L708.1,112.6 L706.9,117.6 L702.4,121.4 L700.6,124.6 L698.0,121.4 L690.5,120.2 L682.9,118.9 L676.6,116.4 L672.2,115.1 L670.3,112.0 L668.4,115.1 L665.2,116.4 L658.9,118.3 L652.6,117.6 L650.7,116.5 L645.7,121.0 L640.0,123.2 L635.5,123.8 L630.5,125.0 L629.2,128.8 L631.8,132.6 L634.3,135.8 L638.1,138.3 L645.0,143.3 L648.8,147.8 L646.9,149.6 L643.1,145.2 L636.8,140.2 L633.0,140.8 L630.5,143.3 L631.8,147.1 L636.8,152.8 L634.9,156.6 L630.5,152.8 L628.0,145.2 L625.5,144.6 L620.4,144.6 L618.5,147.1 L621.7,152.8 L628.0,157.2 L625.5,157.8 L617.3,154.1 L616.6,146.5 L612.8,144.0 L607.8,140.2 L603.4,135.1 L604.6,131.4 L603.4,130.1 L600.2,132.6 L595.2,136.4 L593.9,142.7 L592.7,149.0 L596.4,156.6 L599.6,160.0 L602.1,166.3 L605.3,172.6 L610.3,177.7 L614.1,182.7 L616.6,187.1 L611.6,189.6 L608.4,190.3 L611.0,188.4 L611.6,184.0 L603.4,182.7 L600.9,185.2 L603.0,189.0 L606.5,190.3 L606.5,193.4 L600.0,196.0 L593.9,199.2 L593.2,201.2 L599.6,202.4 L606.9,203.8 L612.0,206.8 L614.9,210.4 L618.5,214.0 L622.9,217.0 L628.7,219.9 L634.5,222.8 L638.2,226.4 L639.1,230.8 L637.7,238.1 L638.4,243.9 L637.2,246.9 L635.2,245.6 L633.3,243.2 L628.9,238.8 L624.3,234.2 L620.5,232.6 L617.5,234.6 L614.1,233.7 L609.0,232.3 L606.6,232.4 L605.6,233.9 L609.2,235.9 L610.0,241.0 L610.7,245.4 L613.6,249.8 L616.5,248.3 L618.7,252.0 L621.6,252.7 L618.7,256.3 L614.3,257.8 L610.7,260.7 L609.2,262.2 L607.8,258.5 L604.1,254.1 L599.0,251.2 L598.3,250.5 L598.3,254.1 L600.5,260.0 L602.7,265.1 L604.9,270.2 L606.3,276.0 L607.5,281.4 L606.8,286.4 L608.1,291.5 L609.3,295.3 L604.3,291.5 L601.8,287.7 L599.2,282.7 L595.5,280.8 L594.2,281.4 L591.0,285.2 L589.8,290.2 L588.5,295.9 L586.6,294.0 L585.4,287.7 L582.8,281.4 L579.1,276.4 L575.3,272.6 L573.4,273.8 L572.1,277.6 L570.9,283.9 L565.8,283.9 L565.2,282.7 L562.7,275.1 L559.6,271.6 L560.9,266.5 L564.0,260.2 L562.1,253.9 L556.4,247.6 L551.4,241.3 L547.1,236.6 L550.3,232.8 L555.3,225.9 L562.0,223.5 L569.2,220.9 L575.5,223.4 L582.6,225.5 L585.0,225.2 L592.3,228.8 L599.6,232.3 L603.4,233.2 L603.9,229.2 L599.6,224.4 L593.7,221.3 L590.8,217.9 L588.1,216.6 L581.8,217.7 L574.2,218.3 L569.5,218.6 L567.9,217.7 L561.6,219.0 L552.8,219.6 L547.1,219.0 L545.2,212.7 L542.1,206.4 L541.7,203.0 L540.5,201.6 L536.7,197.8 L540.0,197.5 L546.0,198.2 L549.3,197.2 L549.0,193.5 L544.0,192.4 L538.5,193.4 L536.7,191.5 L532.9,187.1 L527.8,182.1 L523.4,177.7 L520.3,171.4Z M605.4,199.5 L607.0,197.6 L611.0,195.0 L616.3,193.6 L621.4,200.2 L627.3,205.3 L634.5,207.5 L641.1,209.7 L642.6,214.8 L641.1,219.1 L643.3,225.0 L647.7,228.6 L654.9,227.9 L654.2,233.7 L649.1,235.2 L644.7,231.5 L641.1,226.4 L638.2,221.3 L633.1,219.1 L627.3,217.7 L625.1,214.0 L621.4,211.9 L617.8,206.0 L614.1,203.1 L609.0,201.7Z M621.9,340.2 L622.4,331.4 L623.0,325.6 L624.6,330.8 L626.8,330.8 L627.6,324.4 L629.3,330.1 L633.9,331.4 L638.3,330.8 L639.6,328.2 L642.1,329.5 L642.8,333.3 L645.9,337.1 L652.8,337.1 L657.9,335.2 L668.0,335.8 L670.5,338.3 L680.6,339.6 L688.2,339.0 L690.7,338.3 L692.0,342.8 L693.8,345.9 L697.0,343.4 L702.0,342.1 L706.5,341.5 L708.4,339.6 L709.0,342.1 L707.7,347.8 L703.3,350.3 L697.0,349.1 L693.2,350.3 L688.2,349.7 L680.6,351.0 L671.8,352.8 L662.9,354.1 L659.8,352.8 L659.2,349.1 L655.4,345.9 L649.1,344.0 L644.0,344.6 L637.7,342.1 L630.1,342.1 L625.1,342.1Z" fill="none" stroke="#2a2226" stroke-width="0.7" stroke-linejoin="round"/>
<path d="M562.8,210.8 L562.1,211.7 L560.4,212.1 L558.7,211.7 L558.0,210.8 L558.7,209.9 L560.4,209.5 L562.1,209.9Z" fill="#add8e6" stroke="#2a2226" stroke-width="0.4"/>
<path d="M612.0,127.3 L611.5,127.9 L610.4,128.2 L609.3,127.9 L608.8,127.3 L609.3,126.7 L610.4,126.4 L611.5,126.7Z" fill="#add8e6" stroke="#2a2226" stroke-width="0.4"/>
<path d="M622.7,127.9 L622.1,128.5 L620.5,128.8 L618.9,128.5 L618.3,127.9 L618.9,127.3 L620.5,127.0 L622.1,127.3Z" fill="#add8e6" stroke="#2a2226" stroke-width="0.4"/>
<path d="M706.3,187.8 L705.8,188.7 L704.7,189.1 L703.6,188.7 L703.1,187.8 L703.6,186.9 L704.7,186.5 L705.8,186.9Z" fill="#add8e6" stroke="#2a2226" stroke-width="0.4"/>
<path d="M714.3,191.0 L714.0,191.9 L713.3,192.3 L712.6,191.9 L712.3,191.0 L712.6,190.1 L713.3,189.7 L714.0,190.1Z" fill="#add8e6" stroke="#2a2226" stroke-width="0.4"/>
<g font-family="Liberation Sans, sans-serif" font-size="4.4" font-weight="bold" fill="#2a1414" fill-opacity="0.78" text-anchor="middle"><text x="557.5" y="122.8">23</text><text x="555" y="135.3">24</text><text x="568.8" y="136.5">25</text><text x="571.3" y="142.8">27</text><text x="558.8" y="151.5">28</text><text x="540" y="159.0">27</text><text x="533.8" y="165.3">24</text><text x="546.3" y="164.0">23</text><text x="545" y="170.3">21</text><text x="565" y="159.0">25</text><text x="586.3" y="125.3">30</text><text x="585" y="130.3">28</text><text x="605" y="110.3">29</text><text x="608.8" y="115.3">28</text><text x="616.3" y="107.8">31</text><text x="621.3" y="114.0">28</text><text x="623.8" y="120.3">26</text><text x="602.5" y="121.5">27</text><text x="631.3" y="101.5">31</text><text x="637.5" y="114.0">28</text><text x="643.8" y="120.3">27</text><text x="652.5" y="105.3">28</text><text x="663.8" y="112.8">28</text><text x="618.8" y="139.0">29</text><text x="581.3" y="150.3">28</text><text x="590" y="147.8">30</text><text x="582.5" y="160.3">29</text><text x="563.8" y="166.5">30</text><text x="591.3" y="167.8">32</text><text x="597.5" y="169.0">31</text><text x="566.3" y="175.3">30</text><text x="573" y="179.5">31</text><text x="585.8" y="181.3">31</text><text x="543.5" y="142.0">22</text><text x="549" y="128.5">24</text><text x="561" y="129.0">24</text><text x="574" y="127.5">25</text><text x="590" y="116.5">29</text><text x="596" y="112.5">28</text><text x="612" y="103.0">27</text><text x="627" y="108.5">30</text><text x="646" y="100.5">30</text><text x="658" y="118.5">29</text><text x="669" y="109.5">27</text><text x="680" y="113.5">25</text><text x="692" y="109.5">27</text><text x="700" y="115.5">27</text><text x="709" y="93.5">28</text><text x="711" y="100.5">29</text><text x="614" y="134.5">28</text><text x="624" y="142.5">28</text><text x="640" y="142.5">28</text><text x="526" y="177.5">24</text><text x="532" y="173.5">25</text><text x="538" y="181.5">25</text><text x="546" y="187.5">24</text><text x="552" y="177.5">26</text><text x="560" y="183.5">29</text><text x="570" y="187.5">30</text><text x="578" y="185.5">31</text><text x="596" y="177.5">30</text><text x="604" y="177.5">27</text><text x="566" y="193.5">23</text><text x="572" y="199.5">26</text><text x="580" y="201.5">27</text><text x="588" y="195.5">32</text><text x="596" y="191.5">31</text><text x="550" y="207.5">29</text><text x="556" y="213.5">28</text><text x="548" y="215.5">29</text><text x="566" y="209.5">27</text><text x="578" y="211.5">26</text><text x="586" y="209.5">26</text><text x="592" y="213.5">24</text><text x="598" y="211.5">33</text><text x="604" y="213.5">33</text><text x="612" y="213.5">31</text><text x="606" y="221.5">30</text><text x="616" y="223.5">29</text><text x="624" y="227.5">32</text><text x="630" y="233.5">33</text><text x="634" y="239.5">32</text><text x="628" y="223.5">31</text><text x="620" y="205.5">31</text><text x="628" y="211.5">27</text><text x="636" y="215.5">29</text><text x="650" y="232.5">29</text><text x="612" y="200.5">31</text><text x="556" y="231.5">27</text><text x="562" y="227.5">27</text><text x="570" y="225.5">24</text><text x="576" y="231.5">25</text><text x="584" y="231.5">26</text><text x="592" y="235.5">29</text><text x="598" y="241.5">33</text><text x="556" y="243.5">31</text><text x="562" y="251.5">28</text><text x="574" y="247.5">23</text><text x="580" y="249.5">26</text><text x="586" y="253.5">30</text><text x="594" y="249.5">33</text><text x="602" y="247.5">31</text><text x="610" y="251.5">34</text><text x="616" y="256.5">35</text><text x="608" y="259.5">37</text><text x="568" y="263.5">30</text><text x="574" y="266.5">33</text><text x="580" y="269.5">30</text><text x="588" y="271.5">33</text><text x="596" y="273.5">34</text><text x="602" y="277.5">33</text><text x="562" y="273.5">26</text><text x="566" y="281.5">27</text><text x="584" y="279.5">23</text><text x="592" y="281.5">32</text><text x="600" y="285.5">32</text><text x="604" y="303.5">33</text><text x="629" y="337.5">33</text><text x="636" y="341.5">34</text><text x="648" y="341.5">33</text><text x="656" y="344.5">35</text><text x="664" y="341.5">34</text><text x="669" y="345.5">36</text><text x="674" y="350.5">39</text><text x="681" y="346.5">35</text><text x="688" y="344.5">31</text><text x="700" y="347.5">30</text><text x="660" y="350.5">36</text><text x="657" y="128.5">28</text><text x="675" y="159.5">28</text><text x="703" y="188.5">27</text><text x="710" y="191.5">28</text><text x="698" y="218.5">26</text><text x="699" y="224.5">28</text><text x="723" y="245.5">28</text><text x="704" y="251.5">29</text><text x="662" y="241.5">28</text><text x="682" y="272.5">29</text><text x="672" y="272.5">26</text><text x="734" y="282.5">29</text><text x="762" y="305.5">32</text><text x="759" y="311.5">35</text><text x="736" y="326.5">31</text><text x="530" y="223.5">26</text><text x="537" y="242.5">26</text><text x="508" y="166.5">22</text><text x="534" y="205.5">24</text><text x="654" y="201.5">26</text></g>
<g><circle cx="750" cy="334.7" r="5.6" fill="#ffd200"/><path d="M750,335 L759.9,335 L766,342 L772.2,335 L781.8,335 L781.8,353.1 L773.7,353.1 L773.7,345.5 L766,352.8 L757.9,345.5 L757.9,353.1 L750,353.1 Z" fill="#1414cc"/><circle cx="750" cy="334.7" r="5.6" fill="#ffd200"/><text x="786.2" y="341.3" font-family="Liberation Sans, sans-serif" font-size="8.8" fill="#1a1acc" textLength="24.6" lengthAdjust="spacingAndGlyphs">Meteo</text><text x="786.4" y="348.4" font-family="Liberation Sans, sans-serif" font-size="3.9" fill="#2a2acc">Όλα για</text><text x="786.4" y="353.4" font-family="Liberation Sans, sans-serif" font-size="3.9" fill="#2a2acc">τον καιρό</text></g>
<g fill="#2a2226" fill-opacity="0.75"><ellipse cx="513.4" cy="85.1" rx="1.2" ry="0.8"/><ellipse cx="539.3" cy="85.1" rx="1.2" ry="0.8"/><ellipse cx="510.9" cy="117.9" rx="1.0" ry="0.9"/><ellipse cx="497.5" cy="131" rx="0.9" ry="1.4"/><ellipse cx="495" cy="152.5" rx="0.8" ry="0.6"/><ellipse cx="498.5" cy="158" rx="0.8" ry="0.6"/><ellipse cx="501" cy="161" rx="0.8" ry="0.6"/><ellipse cx="679" cy="76.5" rx="1.0" ry="0.6"/><ellipse cx="534" cy="76.5" rx="1.2" ry="0.6"/><ellipse cx="744" cy="76.5" rx="1.0" ry="0.6"/><ellipse cx="650" cy="75.8" rx="0.8" ry="0.5"/></g>
</g></g>
<rect x="481.5" y="75.9" width="342.5" height="290.70000000000005" fill="none" stroke="#7d8488" stroke-width="0.8"/>
</svg>
<div class="abs" style="left:834px;top:75.80px;width:14px;height:19.70px;background:#5f1a9e"></div>
<div class="abs" style="left:834px;top:95.20px;width:14px;height:19.70px;background:#a81d6b"></div>
<div class="abs" style="left:834px;top:114.60px;width:14px;height:19.70px;background:#e8192c"></div>
<div class="abs" style="left:834px;top:134.00px;width:14px;height:19.70px;background:#ff4a12"></div>
<div class="abs" style="left:834px;top:153.40px;width:14px;height:19.70px;background:#ff8c1a"></div>
<div class="abs" style="left:834px;top:172.80px;width:14px;height:19.70px;background:#ffb81a"></div>
<div class="abs" style="left:834px;top:192.20px;width:14px;height:19.70px;background:#ffe01a"></div>
<div class="abs" style="left:834px;top:211.60px;width:14px;height:19.70px;background:#ffff22"></div>
<div class="abs" style="left:834px;top:231.00px;width:14px;height:19.70px;background:#a8dc1e"></div>
<div class="abs" style="left:834px;top:250.40px;width:14px;height:19.70px;background:#3cbe28"></div>
<div class="abs" style="left:834px;top:269.80px;width:14px;height:19.70px;background:#28c864"></div>
<div class="abs" style="left:834px;top:289.20px;width:14px;height:19.70px;background:#1ee0c0"></div>
<div class="abs" style="left:834px;top:308.60px;width:14px;height:19.70px;background:#1ed8f8"></div>
<div class="abs" style="left:834px;top:328.00px;width:14px;height:19.70px;background:#1e78f8"></div>
<div class="abs" style="left:834px;top:347.40px;width:14px;height:19.70px;background:#1e1ef0"></div>
<svg style="position:absolute;left:0;top:0" width="880" height="412" viewBox="0 0 880 412" font-family="Liberation Sans, sans-serif" font-size="9.45" fill="#222" stroke="#222" stroke-width="0.15"><text x="854.3" y="98.6">32</text><text x="854.3" y="118.0">30</text><text x="854.3" y="137.4">28</text><text x="854.3" y="156.8">26</text><text x="854.3" y="176.2">24</text><text x="854.3" y="195.6">22</text><text x="854.3" y="215.0">20</text><text x="854.3" y="234.4">18</text><text x="854.3" y="253.8">16</text><text x="854.3" y="273.2">14</text><text x="854.3" y="292.6">12</text><text x="854.3" y="312.0">10</text><text x="854.3" y="331.4">8</text><text x="854.3" y="350.8">6</text><text x="446.3" y="115.1" text-anchor="start">41<tspan font-size="6" dy="-3.2">o</tspan><tspan dy="3.2">N</tspan></text><rect x="473.3" y="111.0" width="8.2" height="1" fill="#666" stroke="none"/><text x="446.3" y="154.3" text-anchor="start">40<tspan font-size="6" dy="-3.2">o</tspan><tspan dy="3.2">N</tspan></text><rect x="473.3" y="150.2" width="8.2" height="1" fill="#666" stroke="none"/><text x="446.3" y="195.1" text-anchor="start">39<tspan font-size="6" dy="-3.2">o</tspan><tspan dy="3.2">N</tspan></text><rect x="473.3" y="191.0" width="8.2" height="1" fill="#666" stroke="none"/><text x="446.3" y="234.3" text-anchor="start">38<tspan font-size="6" dy="-3.2">o</tspan><tspan dy="3.2">N</tspan></text><rect x="473.3" y="230.2" width="8.2" height="1" fill="#666" stroke="none"/><text x="446.3" y="274.2" text-anchor="start">37<tspan font-size="6" dy="-3.2">o</tspan><tspan dy="3.2">N</tspan></text><rect x="473.3" y="270.1" width="8.2" height="1" fill="#666" stroke="none"/><text x="446.3" y="313.3" text-anchor="start">36<tspan font-size="6" dy="-3.2">o</tspan><tspan dy="3.2">N</tspan></text><rect x="473.3" y="309.2" width="8.2" height="1" fill="#666" stroke="none"/><text x="446.3" y="352.2" text-anchor="start">35<tspan font-size="6" dy="-3.2">o</tspan><tspan dy="3.2">N</tspan></text><rect x="473.3" y="348.1" width="8.2" height="1" fill="#666" stroke="none"/><text x="508.5" y="388.8" text-anchor="middle">20<tspan font-size="6" dy="-3.2">o</tspan><tspan dy="3.2">E</tspan></text><rect x="508.0" y="366.6" width="1" height="8.2" fill="#666" stroke="none"/><text x="572.2" y="388.8" text-anchor="middle">22<tspan font-size="6" dy="-3.2">o</tspan><tspan dy="3.2">E</tspan></text><rect x="571.7" y="366.6" width="1" height="8.2" fill="#666" stroke="none"/><text x="635.5" y="388.8" text-anchor="middle">24<tspan font-size="6" dy="-3.2">o</tspan><tspan dy="3.2">E</tspan></text><rect x="635.0" y="366.6" width="1" height="8.2" fill="#666" stroke="none"/><text x="699" y="388.8" text-anchor="middle">26<tspan font-size="6" dy="-3.2">o</tspan><tspan dy="3.2">E</tspan></text><rect x="698.5" y="366.6" width="1" height="8.2" fill="#666" stroke="none"/><text x="762.5" y="388.8" text-anchor="middle">28<tspan font-size="6" dy="-3.2">o</tspan><tspan dy="3.2">E</tspan></text><rect x="762.0" y="366.6" width="1" height="8.2" fill="#666" stroke="none"/></svg>
</body></html>
